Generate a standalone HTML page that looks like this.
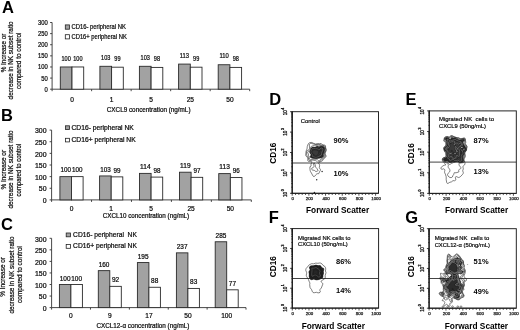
<!DOCTYPE html>
<html><head><meta charset="utf-8"><style>
html,body{margin:0;padding:0;background:#fff;}
svg{display:block;font-family:"Liberation Sans",sans-serif;filter:grayscale(1);}
</style></head><body>
<svg width="520" height="330" viewBox="0 0 520 330">
<rect width="520" height="330" fill="#fff"/>
<line x1="52.10" y1="22.50" x2="52.10" y2="89.20" stroke="#333" stroke-width="0.9"/>
<line x1="50.10" y1="89.20" x2="52.10" y2="89.20" stroke="#333" stroke-width="0.9"/>
<text x="47.80" y="91.70" font-size="6.4" stroke="#1a1a1a" stroke-width="0.22" text-anchor="end" textLength="3.266666666666667" lengthAdjust="spacingAndGlyphs">0</text>
<line x1="50.10" y1="78.08" x2="52.10" y2="78.08" stroke="#333" stroke-width="0.9"/>
<text x="47.80" y="80.58" font-size="6.4" stroke="#1a1a1a" stroke-width="0.22" text-anchor="end" textLength="6.533333333333334" lengthAdjust="spacingAndGlyphs">50</text>
<line x1="50.10" y1="66.97" x2="52.10" y2="66.97" stroke="#333" stroke-width="0.9"/>
<text x="47.80" y="69.47" font-size="6.4" stroke="#1a1a1a" stroke-width="0.22" text-anchor="end" textLength="9.8" lengthAdjust="spacingAndGlyphs">100</text>
<line x1="50.10" y1="55.85" x2="52.10" y2="55.85" stroke="#333" stroke-width="0.9"/>
<text x="47.80" y="58.35" font-size="6.4" stroke="#1a1a1a" stroke-width="0.22" text-anchor="end" textLength="9.8" lengthAdjust="spacingAndGlyphs">150</text>
<line x1="50.10" y1="44.73" x2="52.10" y2="44.73" stroke="#333" stroke-width="0.9"/>
<text x="47.80" y="47.23" font-size="6.4" stroke="#1a1a1a" stroke-width="0.22" text-anchor="end" textLength="9.8" lengthAdjust="spacingAndGlyphs">200</text>
<line x1="50.10" y1="33.62" x2="52.10" y2="33.62" stroke="#333" stroke-width="0.9"/>
<text x="47.80" y="36.12" font-size="6.4" stroke="#1a1a1a" stroke-width="0.22" text-anchor="end" textLength="9.8" lengthAdjust="spacingAndGlyphs">250</text>
<line x1="50.10" y1="22.50" x2="52.10" y2="22.50" stroke="#333" stroke-width="0.9"/>
<text x="47.80" y="25.00" font-size="6.4" stroke="#1a1a1a" stroke-width="0.22" text-anchor="end" textLength="9.8" lengthAdjust="spacingAndGlyphs">300</text>
<line x1="52.10" y1="89.20" x2="249.70" y2="89.20" stroke="#333" stroke-width="0.9"/>
<line x1="52.10" y1="89.20" x2="52.10" y2="91.20" stroke="#333" stroke-width="0.9"/>
<line x1="91.62" y1="89.20" x2="91.62" y2="91.20" stroke="#333" stroke-width="0.9"/>
<line x1="131.14" y1="89.20" x2="131.14" y2="91.20" stroke="#333" stroke-width="0.9"/>
<line x1="170.66" y1="89.20" x2="170.66" y2="91.20" stroke="#333" stroke-width="0.9"/>
<line x1="210.18" y1="89.20" x2="210.18" y2="91.20" stroke="#333" stroke-width="0.9"/>
<line x1="249.70" y1="89.20" x2="249.70" y2="91.20" stroke="#333" stroke-width="0.9"/>
<rect x="60.30" y="66.97" width="11.70" height="22.23" fill="#a2a2a2" stroke="#2a2a2a" stroke-width="0.9"/>
<rect x="72.00" y="66.97" width="11.70" height="22.23" fill="#fff" stroke="#2a2a2a" stroke-width="0.9"/>
<text x="66.15" y="60.67" font-size="6.4" stroke="#1a1a1a" stroke-width="0.22" text-anchor="middle" textLength="9.3" lengthAdjust="spacingAndGlyphs">100</text>
<text x="77.85" y="60.67" font-size="6.4" stroke="#1a1a1a" stroke-width="0.22" text-anchor="middle" textLength="9.3" lengthAdjust="spacingAndGlyphs">100</text>
<text x="72.00" y="101.80" font-size="6.6" stroke="#1a1a1a" stroke-width="0.22" text-anchor="middle">0</text>
<rect x="99.90" y="66.30" width="11.70" height="22.90" fill="#a2a2a2" stroke="#2a2a2a" stroke-width="0.9"/>
<rect x="111.60" y="67.19" width="11.70" height="22.01" fill="#fff" stroke="#2a2a2a" stroke-width="0.9"/>
<text x="105.75" y="60.00" font-size="6.4" stroke="#1a1a1a" stroke-width="0.22" text-anchor="middle" textLength="9.3" lengthAdjust="spacingAndGlyphs">103</text>
<text x="117.45" y="60.89" font-size="6.4" stroke="#1a1a1a" stroke-width="0.22" text-anchor="middle" textLength="6.2" lengthAdjust="spacingAndGlyphs">99</text>
<text x="111.60" y="101.80" font-size="6.6" stroke="#1a1a1a" stroke-width="0.22" text-anchor="middle">1</text>
<rect x="139.40" y="66.30" width="11.70" height="22.90" fill="#a2a2a2" stroke="#2a2a2a" stroke-width="0.9"/>
<rect x="151.10" y="67.41" width="11.70" height="21.79" fill="#fff" stroke="#2a2a2a" stroke-width="0.9"/>
<text x="145.25" y="60.00" font-size="6.4" stroke="#1a1a1a" stroke-width="0.22" text-anchor="middle" textLength="9.3" lengthAdjust="spacingAndGlyphs">103</text>
<text x="156.95" y="61.11" font-size="6.4" stroke="#1a1a1a" stroke-width="0.22" text-anchor="middle" textLength="6.2" lengthAdjust="spacingAndGlyphs">98</text>
<text x="151.10" y="101.80" font-size="6.6" stroke="#1a1a1a" stroke-width="0.22" text-anchor="middle">5</text>
<rect x="178.60" y="64.08" width="11.70" height="25.12" fill="#a2a2a2" stroke="#2a2a2a" stroke-width="0.9"/>
<rect x="190.30" y="67.19" width="11.70" height="22.01" fill="#fff" stroke="#2a2a2a" stroke-width="0.9"/>
<text x="184.45" y="57.78" font-size="6.4" stroke="#1a1a1a" stroke-width="0.22" text-anchor="middle" textLength="9.3" lengthAdjust="spacingAndGlyphs">113</text>
<text x="196.15" y="60.89" font-size="6.4" stroke="#1a1a1a" stroke-width="0.22" text-anchor="middle" textLength="6.2" lengthAdjust="spacingAndGlyphs">99</text>
<text x="190.30" y="101.80" font-size="6.6" stroke="#1a1a1a" stroke-width="0.22" text-anchor="middle">25</text>
<rect x="218.20" y="64.74" width="11.70" height="24.46" fill="#a2a2a2" stroke="#2a2a2a" stroke-width="0.9"/>
<rect x="229.90" y="67.41" width="11.70" height="21.79" fill="#fff" stroke="#2a2a2a" stroke-width="0.9"/>
<text x="224.05" y="58.44" font-size="6.4" stroke="#1a1a1a" stroke-width="0.22" text-anchor="middle" textLength="9.3" lengthAdjust="spacingAndGlyphs">110</text>
<text x="235.75" y="61.11" font-size="6.4" stroke="#1a1a1a" stroke-width="0.22" text-anchor="middle" textLength="6.2" lengthAdjust="spacingAndGlyphs">98</text>
<text x="229.90" y="101.80" font-size="6.6" stroke="#1a1a1a" stroke-width="0.22" text-anchor="middle">50</text>
<text x="106.80" y="111.70" font-size="6.4" stroke="#1a1a1a" stroke-width="0.22" textLength="83.7" lengthAdjust="spacingAndGlyphs">CXCL9 concentration (ng/mL)</text>
<rect x="65.30" y="24.90" width="4.10" height="4.30" fill="#a2a2a2" stroke="#222" stroke-width="0.8"/>
<text x="71.50" y="29.25" font-size="6.5" stroke="#1a1a1a" stroke-width="0.22" textLength="54.3" lengthAdjust="spacingAndGlyphs">CD16- peripheral NK</text>
<rect x="65.30" y="34.70" width="4.10" height="4.20" fill="#fff" stroke="#222" stroke-width="0.8"/>
<text x="71.50" y="38.90" font-size="6.5" stroke="#1a1a1a" stroke-width="0.22" textLength="55.3" lengthAdjust="spacingAndGlyphs">CD16+ peripheral NK</text>
<text transform="translate(5.60,53.00) rotate(-90)" font-size="6.4" stroke="#1a1a1a" stroke-width="0.22" text-anchor="middle" textLength="38.5" lengthAdjust="spacingAndGlyphs">% Increase or</text>
<text transform="translate(13.30,60.40) rotate(-90)" font-size="6.4" stroke="#1a1a1a" stroke-width="0.22" text-anchor="middle" textLength="78.0" lengthAdjust="spacingAndGlyphs">decrease in NK subset ratio</text>
<text transform="translate(21.00,60.80) rotate(-90)" font-size="6.4" stroke="#1a1a1a" stroke-width="0.22" text-anchor="middle" textLength="56.5" lengthAdjust="spacingAndGlyphs">compared to control</text>
<text x="2.00" y="12.60" font-size="16.5" font-weight="bold" fill="#000">A</text>
<line x1="51.60" y1="130.10" x2="51.60" y2="199.90" stroke="#333" stroke-width="0.9"/>
<line x1="49.60" y1="199.90" x2="51.60" y2="199.90" stroke="#333" stroke-width="0.9"/>
<text x="46.60" y="203.10" font-size="6.4" stroke="#1a1a1a" stroke-width="0.22" text-anchor="end" textLength="3.8666666666666667" lengthAdjust="spacingAndGlyphs">0</text>
<line x1="49.60" y1="188.27" x2="51.60" y2="188.27" stroke="#333" stroke-width="0.9"/>
<text x="46.60" y="191.47" font-size="6.4" stroke="#1a1a1a" stroke-width="0.22" text-anchor="end" textLength="7.733333333333333" lengthAdjust="spacingAndGlyphs">50</text>
<line x1="49.60" y1="176.63" x2="51.60" y2="176.63" stroke="#333" stroke-width="0.9"/>
<text x="46.60" y="179.83" font-size="6.4" stroke="#1a1a1a" stroke-width="0.22" text-anchor="end" textLength="11.6" lengthAdjust="spacingAndGlyphs">100</text>
<line x1="49.60" y1="165.00" x2="51.60" y2="165.00" stroke="#333" stroke-width="0.9"/>
<text x="46.60" y="168.20" font-size="6.4" stroke="#1a1a1a" stroke-width="0.22" text-anchor="end" textLength="11.6" lengthAdjust="spacingAndGlyphs">150</text>
<line x1="49.60" y1="153.37" x2="51.60" y2="153.37" stroke="#333" stroke-width="0.9"/>
<text x="46.60" y="156.57" font-size="6.4" stroke="#1a1a1a" stroke-width="0.22" text-anchor="end" textLength="11.6" lengthAdjust="spacingAndGlyphs">200</text>
<line x1="49.60" y1="141.73" x2="51.60" y2="141.73" stroke="#333" stroke-width="0.9"/>
<text x="46.60" y="144.93" font-size="6.4" stroke="#1a1a1a" stroke-width="0.22" text-anchor="end" textLength="11.6" lengthAdjust="spacingAndGlyphs">250</text>
<line x1="49.60" y1="130.10" x2="51.60" y2="130.10" stroke="#333" stroke-width="0.9"/>
<text x="46.60" y="133.30" font-size="6.4" stroke="#1a1a1a" stroke-width="0.22" text-anchor="end" textLength="11.6" lengthAdjust="spacingAndGlyphs">300</text>
<line x1="51.60" y1="199.90" x2="251.30" y2="199.90" stroke="#333" stroke-width="0.9"/>
<line x1="51.60" y1="199.90" x2="51.60" y2="201.90" stroke="#333" stroke-width="0.9"/>
<line x1="91.54" y1="199.90" x2="91.54" y2="201.90" stroke="#333" stroke-width="0.9"/>
<line x1="131.48" y1="199.90" x2="131.48" y2="201.90" stroke="#333" stroke-width="0.9"/>
<line x1="171.42" y1="199.90" x2="171.42" y2="201.90" stroke="#333" stroke-width="0.9"/>
<line x1="211.36" y1="199.90" x2="211.36" y2="201.90" stroke="#333" stroke-width="0.9"/>
<line x1="251.30" y1="199.90" x2="251.30" y2="201.90" stroke="#333" stroke-width="0.9"/>
<rect x="59.90" y="176.63" width="11.60" height="23.27" fill="#a2a2a2" stroke="#2a2a2a" stroke-width="0.9"/>
<rect x="71.50" y="176.63" width="11.60" height="23.27" fill="#fff" stroke="#2a2a2a" stroke-width="0.9"/>
<text x="65.70" y="172.33" font-size="6.4" stroke="#1a1a1a" stroke-width="0.22" text-anchor="middle" textLength="10.5" lengthAdjust="spacingAndGlyphs">100</text>
<text x="77.30" y="172.33" font-size="6.4" stroke="#1a1a1a" stroke-width="0.22" text-anchor="middle" textLength="10.5" lengthAdjust="spacingAndGlyphs">100</text>
<text x="71.50" y="210.60" font-size="6.6" stroke="#1a1a1a" stroke-width="0.22" text-anchor="middle">0</text>
<rect x="99.60" y="175.94" width="11.60" height="23.96" fill="#a2a2a2" stroke="#2a2a2a" stroke-width="0.9"/>
<rect x="111.20" y="176.87" width="11.60" height="23.03" fill="#fff" stroke="#2a2a2a" stroke-width="0.9"/>
<text x="105.40" y="171.64" font-size="6.4" stroke="#1a1a1a" stroke-width="0.22" text-anchor="middle" textLength="10.5" lengthAdjust="spacingAndGlyphs">103</text>
<text x="117.00" y="172.57" font-size="6.4" stroke="#1a1a1a" stroke-width="0.22" text-anchor="middle" textLength="7.0" lengthAdjust="spacingAndGlyphs">99</text>
<text x="111.20" y="210.60" font-size="6.6" stroke="#1a1a1a" stroke-width="0.22" text-anchor="middle">1</text>
<rect x="139.50" y="173.38" width="11.60" height="26.52" fill="#a2a2a2" stroke="#2a2a2a" stroke-width="0.9"/>
<rect x="151.10" y="177.10" width="11.60" height="22.80" fill="#fff" stroke="#2a2a2a" stroke-width="0.9"/>
<text x="145.30" y="169.08" font-size="6.4" stroke="#1a1a1a" stroke-width="0.22" text-anchor="middle" textLength="10.5" lengthAdjust="spacingAndGlyphs">114</text>
<text x="156.90" y="172.80" font-size="6.4" stroke="#1a1a1a" stroke-width="0.22" text-anchor="middle" textLength="7.0" lengthAdjust="spacingAndGlyphs">98</text>
<text x="151.10" y="210.60" font-size="6.6" stroke="#1a1a1a" stroke-width="0.22" text-anchor="middle">5</text>
<rect x="179.50" y="172.21" width="11.60" height="27.69" fill="#a2a2a2" stroke="#2a2a2a" stroke-width="0.9"/>
<rect x="191.10" y="177.33" width="11.60" height="22.57" fill="#fff" stroke="#2a2a2a" stroke-width="0.9"/>
<text x="185.30" y="167.91" font-size="6.4" stroke="#1a1a1a" stroke-width="0.22" text-anchor="middle" textLength="10.5" lengthAdjust="spacingAndGlyphs">119</text>
<text x="196.90" y="173.03" font-size="6.4" stroke="#1a1a1a" stroke-width="0.22" text-anchor="middle" textLength="7.0" lengthAdjust="spacingAndGlyphs">97</text>
<text x="191.10" y="210.60" font-size="6.6" stroke="#1a1a1a" stroke-width="0.22" text-anchor="middle">25</text>
<rect x="218.75" y="173.61" width="11.60" height="26.29" fill="#a2a2a2" stroke="#2a2a2a" stroke-width="0.9"/>
<rect x="230.35" y="177.56" width="11.60" height="22.34" fill="#fff" stroke="#2a2a2a" stroke-width="0.9"/>
<text x="224.55" y="169.31" font-size="6.4" stroke="#1a1a1a" stroke-width="0.22" text-anchor="middle" textLength="10.5" lengthAdjust="spacingAndGlyphs">113</text>
<text x="236.15" y="173.26" font-size="6.4" stroke="#1a1a1a" stroke-width="0.22" text-anchor="middle" textLength="7.0" lengthAdjust="spacingAndGlyphs">96</text>
<text x="230.35" y="210.60" font-size="6.6" stroke="#1a1a1a" stroke-width="0.22" text-anchor="middle">50</text>
<text x="102.70" y="218.40" font-size="6.4" stroke="#1a1a1a" stroke-width="0.22" textLength="86.5" lengthAdjust="spacingAndGlyphs">CXCL10 concentration (ng/mL)</text>
<rect x="65.40" y="125.80" width="4.10" height="3.70" fill="#a2a2a2" stroke="#222" stroke-width="0.8"/>
<text x="71.50" y="129.50" font-size="6.3" stroke="#1a1a1a" stroke-width="0.22" textLength="62.3" lengthAdjust="spacingAndGlyphs">CD16- peripheral NK</text>
<rect x="65.40" y="138.30" width="4.10" height="3.60" fill="#fff" stroke="#222" stroke-width="0.8"/>
<text x="71.50" y="141.80" font-size="6.3" stroke="#1a1a1a" stroke-width="0.22" textLength="64.2" lengthAdjust="spacingAndGlyphs">CD16+ peripheral NK</text>
<text transform="translate(5.70,169.70) rotate(-90)" font-size="6.4" stroke="#1a1a1a" stroke-width="0.22" text-anchor="middle" textLength="39.5" lengthAdjust="spacingAndGlyphs">% Increase or</text>
<text transform="translate(13.00,169.50) rotate(-90)" font-size="6.4" stroke="#1a1a1a" stroke-width="0.22" text-anchor="middle" textLength="78.0" lengthAdjust="spacingAndGlyphs">decrease in NK subset ratio</text>
<text transform="translate(21.40,170.10) rotate(-90)" font-size="6.4" stroke="#1a1a1a" stroke-width="0.22" text-anchor="middle" textLength="52.6" lengthAdjust="spacingAndGlyphs">compared to control</text>
<text x="0.90" y="120.80" font-size="16.5" font-weight="bold" fill="#000">B</text>
<line x1="51.60" y1="238.30" x2="51.60" y2="307.60" stroke="#333" stroke-width="0.9"/>
<line x1="49.60" y1="307.60" x2="51.60" y2="307.60" stroke="#333" stroke-width="0.9"/>
<text x="46.60" y="310.80" font-size="6.4" stroke="#1a1a1a" stroke-width="0.22" text-anchor="end" textLength="3.8666666666666667" lengthAdjust="spacingAndGlyphs">0</text>
<line x1="49.60" y1="296.05" x2="51.60" y2="296.05" stroke="#333" stroke-width="0.9"/>
<text x="46.60" y="299.25" font-size="6.4" stroke="#1a1a1a" stroke-width="0.22" text-anchor="end" textLength="7.733333333333333" lengthAdjust="spacingAndGlyphs">50</text>
<line x1="49.60" y1="284.50" x2="51.60" y2="284.50" stroke="#333" stroke-width="0.9"/>
<text x="46.60" y="287.70" font-size="6.4" stroke="#1a1a1a" stroke-width="0.22" text-anchor="end" textLength="11.6" lengthAdjust="spacingAndGlyphs">100</text>
<line x1="49.60" y1="272.95" x2="51.60" y2="272.95" stroke="#333" stroke-width="0.9"/>
<text x="46.60" y="276.15" font-size="6.4" stroke="#1a1a1a" stroke-width="0.22" text-anchor="end" textLength="11.6" lengthAdjust="spacingAndGlyphs">150</text>
<line x1="49.60" y1="261.40" x2="51.60" y2="261.40" stroke="#333" stroke-width="0.9"/>
<text x="46.60" y="264.60" font-size="6.4" stroke="#1a1a1a" stroke-width="0.22" text-anchor="end" textLength="11.6" lengthAdjust="spacingAndGlyphs">200</text>
<line x1="49.60" y1="249.85" x2="51.60" y2="249.85" stroke="#333" stroke-width="0.9"/>
<text x="46.60" y="253.05" font-size="6.4" stroke="#1a1a1a" stroke-width="0.22" text-anchor="end" textLength="11.6" lengthAdjust="spacingAndGlyphs">250</text>
<line x1="49.60" y1="238.30" x2="51.60" y2="238.30" stroke="#333" stroke-width="0.9"/>
<text x="46.60" y="241.50" font-size="6.4" stroke="#1a1a1a" stroke-width="0.22" text-anchor="end" textLength="11.6" lengthAdjust="spacingAndGlyphs">300</text>
<line x1="51.60" y1="307.60" x2="246.00" y2="307.60" stroke="#333" stroke-width="0.9"/>
<line x1="51.60" y1="307.60" x2="51.60" y2="309.60" stroke="#333" stroke-width="0.9"/>
<line x1="90.48" y1="307.60" x2="90.48" y2="309.60" stroke="#333" stroke-width="0.9"/>
<line x1="129.36" y1="307.60" x2="129.36" y2="309.60" stroke="#333" stroke-width="0.9"/>
<line x1="168.24" y1="307.60" x2="168.24" y2="309.60" stroke="#333" stroke-width="0.9"/>
<line x1="207.12" y1="307.60" x2="207.12" y2="309.60" stroke="#333" stroke-width="0.9"/>
<line x1="246.00" y1="307.60" x2="246.00" y2="309.60" stroke="#333" stroke-width="0.9"/>
<rect x="59.40" y="284.50" width="11.50" height="23.10" fill="#a2a2a2" stroke="#2a2a2a" stroke-width="0.9"/>
<rect x="70.90" y="284.50" width="11.50" height="23.10" fill="#fff" stroke="#2a2a2a" stroke-width="0.9"/>
<text x="65.15" y="280.50" font-size="6.4" stroke="#1a1a1a" stroke-width="0.22" text-anchor="middle" textLength="10.800000000000002" lengthAdjust="spacingAndGlyphs">100</text>
<text x="76.65" y="280.50" font-size="6.4" stroke="#1a1a1a" stroke-width="0.22" text-anchor="middle" textLength="10.800000000000002" lengthAdjust="spacingAndGlyphs">100</text>
<text x="70.90" y="318.00" font-size="6.6" stroke="#1a1a1a" stroke-width="0.22" text-anchor="middle">0</text>
<rect x="98.30" y="270.64" width="11.50" height="36.96" fill="#a2a2a2" stroke="#2a2a2a" stroke-width="0.9"/>
<rect x="109.80" y="286.35" width="11.50" height="21.25" fill="#fff" stroke="#2a2a2a" stroke-width="0.9"/>
<text x="104.05" y="266.64" font-size="6.4" stroke="#1a1a1a" stroke-width="0.22" text-anchor="middle" textLength="10.800000000000002" lengthAdjust="spacingAndGlyphs">160</text>
<text x="115.55" y="282.35" font-size="6.4" stroke="#1a1a1a" stroke-width="0.22" text-anchor="middle" textLength="7.2" lengthAdjust="spacingAndGlyphs">92</text>
<text x="109.80" y="318.00" font-size="6.6" stroke="#1a1a1a" stroke-width="0.22" text-anchor="middle">9</text>
<rect x="137.40" y="262.56" width="11.50" height="45.05" fill="#a2a2a2" stroke="#2a2a2a" stroke-width="0.9"/>
<rect x="148.90" y="287.27" width="11.50" height="20.33" fill="#fff" stroke="#2a2a2a" stroke-width="0.9"/>
<text x="143.15" y="258.56" font-size="6.4" stroke="#1a1a1a" stroke-width="0.22" text-anchor="middle" textLength="10.800000000000002" lengthAdjust="spacingAndGlyphs">195</text>
<text x="154.65" y="283.27" font-size="6.4" stroke="#1a1a1a" stroke-width="0.22" text-anchor="middle" textLength="7.2" lengthAdjust="spacingAndGlyphs">88</text>
<text x="148.90" y="318.00" font-size="6.6" stroke="#1a1a1a" stroke-width="0.22" text-anchor="middle">17</text>
<rect x="176.40" y="252.85" width="11.50" height="54.75" fill="#a2a2a2" stroke="#2a2a2a" stroke-width="0.9"/>
<rect x="187.90" y="288.43" width="11.50" height="19.17" fill="#fff" stroke="#2a2a2a" stroke-width="0.9"/>
<text x="182.15" y="248.85" font-size="6.4" stroke="#1a1a1a" stroke-width="0.22" text-anchor="middle" textLength="10.800000000000002" lengthAdjust="spacingAndGlyphs">237</text>
<text x="193.65" y="284.43" font-size="6.4" stroke="#1a1a1a" stroke-width="0.22" text-anchor="middle" textLength="7.2" lengthAdjust="spacingAndGlyphs">83</text>
<text x="187.90" y="318.00" font-size="6.6" stroke="#1a1a1a" stroke-width="0.22" text-anchor="middle">50</text>
<rect x="215.20" y="241.77" width="11.50" height="65.84" fill="#a2a2a2" stroke="#2a2a2a" stroke-width="0.9"/>
<rect x="226.70" y="289.81" width="11.50" height="17.79" fill="#fff" stroke="#2a2a2a" stroke-width="0.9"/>
<text x="220.95" y="237.77" font-size="6.4" stroke="#1a1a1a" stroke-width="0.22" text-anchor="middle" textLength="10.800000000000002" lengthAdjust="spacingAndGlyphs">285</text>
<text x="232.45" y="285.81" font-size="6.4" stroke="#1a1a1a" stroke-width="0.22" text-anchor="middle" textLength="7.2" lengthAdjust="spacingAndGlyphs">77</text>
<text x="226.70" y="318.00" font-size="6.6" stroke="#1a1a1a" stroke-width="0.22" text-anchor="middle">100</text>
<text x="96.40" y="327.70" font-size="6.4" stroke="#1a1a1a" stroke-width="0.22" textLength="93.0" lengthAdjust="spacingAndGlyphs">CXCL12-α concentration (ng/mL)</text>
<rect x="66.20" y="233.00" width="4.30" height="3.80" fill="#a2a2a2" stroke="#222" stroke-width="0.8"/>
<text x="73.10" y="236.80" font-size="6.8" stroke="#1a1a1a" stroke-width="0.22" textLength="63.8" lengthAdjust="spacingAndGlyphs">CD16- peripheral  NK</text>
<rect x="66.20" y="244.40" width="4.30" height="3.90" fill="#fff" stroke="#222" stroke-width="0.8"/>
<text x="73.10" y="248.40" font-size="6.8" stroke="#1a1a1a" stroke-width="0.22" textLength="63.8" lengthAdjust="spacingAndGlyphs">CD16+ peripheral NK</text>
<text transform="translate(5.00,276.90) rotate(-90)" font-size="6.4" stroke="#1a1a1a" stroke-width="0.22" text-anchor="middle" textLength="39.8" lengthAdjust="spacingAndGlyphs">% Increase or</text>
<text transform="translate(13.60,275.00) rotate(-90)" font-size="6.4" stroke="#1a1a1a" stroke-width="0.22" text-anchor="middle" textLength="77.0" lengthAdjust="spacingAndGlyphs">decrease in NK subset ratio</text>
<text transform="translate(21.80,274.50) rotate(-90)" font-size="6.4" stroke="#1a1a1a" stroke-width="0.22" text-anchor="middle" textLength="56.8" lengthAdjust="spacingAndGlyphs">compared to control</text>
<text x="0.90" y="229.80" font-size="16.5" font-weight="bold" fill="#000">C</text>
<rect x="292.20" y="111.70" width="86.30" height="81.60" fill="none" stroke="#1a1a1a" stroke-width="0.95"/>
<line x1="292.20" y1="111.30" x2="292.20" y2="193.70" stroke="#222" stroke-width="1.3"/>
<line x1="291.80" y1="193.30" x2="378.50" y2="193.30" stroke="#222" stroke-width="1.0"/>
<line x1="292.20" y1="163.00" x2="378.50" y2="163.00" stroke="#222" stroke-width="0.85"/>
<line x1="290.00" y1="193.30" x2="292.20" y2="193.30" stroke="#111" stroke-width="0.8"/>
<line x1="291.30" y1="187.16" x2="292.50" y2="187.16" stroke="#111" stroke-width="0.7"/>
<line x1="291.30" y1="183.57" x2="292.50" y2="183.57" stroke="#111" stroke-width="0.7"/>
<line x1="291.30" y1="181.02" x2="292.50" y2="181.02" stroke="#111" stroke-width="0.7"/>
<line x1="291.30" y1="179.04" x2="292.50" y2="179.04" stroke="#111" stroke-width="0.7"/>
<line x1="291.30" y1="177.43" x2="292.50" y2="177.43" stroke="#111" stroke-width="0.7"/>
<line x1="291.30" y1="176.06" x2="292.50" y2="176.06" stroke="#111" stroke-width="0.7"/>
<line x1="291.30" y1="174.88" x2="292.50" y2="174.88" stroke="#111" stroke-width="0.7"/>
<line x1="291.30" y1="173.83" x2="292.50" y2="173.83" stroke="#111" stroke-width="0.7"/>
<text transform="translate(287.30,194.40) rotate(-90)" font-size="4.6" text-anchor="middle" fill="#111" stroke="#111" stroke-width="0.3">10</text>
<text transform="translate(284.10,191.30) rotate(-90)" font-size="3.5" fill="#111" stroke="#111" stroke-width="0.3">0</text>
<line x1="290.00" y1="172.90" x2="292.20" y2="172.90" stroke="#111" stroke-width="0.8"/>
<line x1="291.30" y1="166.76" x2="292.50" y2="166.76" stroke="#111" stroke-width="0.7"/>
<line x1="291.30" y1="163.17" x2="292.50" y2="163.17" stroke="#111" stroke-width="0.7"/>
<line x1="291.30" y1="160.62" x2="292.50" y2="160.62" stroke="#111" stroke-width="0.7"/>
<line x1="291.30" y1="158.64" x2="292.50" y2="158.64" stroke="#111" stroke-width="0.7"/>
<line x1="291.30" y1="157.03" x2="292.50" y2="157.03" stroke="#111" stroke-width="0.7"/>
<line x1="291.30" y1="155.66" x2="292.50" y2="155.66" stroke="#111" stroke-width="0.7"/>
<line x1="291.30" y1="154.48" x2="292.50" y2="154.48" stroke="#111" stroke-width="0.7"/>
<line x1="291.30" y1="153.43" x2="292.50" y2="153.43" stroke="#111" stroke-width="0.7"/>
<text transform="translate(287.30,174.00) rotate(-90)" font-size="4.6" text-anchor="middle" fill="#111" stroke="#111" stroke-width="0.3">10</text>
<text transform="translate(284.10,170.90) rotate(-90)" font-size="3.5" fill="#111" stroke="#111" stroke-width="0.3">1</text>
<line x1="290.00" y1="152.50" x2="292.20" y2="152.50" stroke="#111" stroke-width="0.8"/>
<line x1="291.30" y1="146.36" x2="292.50" y2="146.36" stroke="#111" stroke-width="0.7"/>
<line x1="291.30" y1="142.77" x2="292.50" y2="142.77" stroke="#111" stroke-width="0.7"/>
<line x1="291.30" y1="140.22" x2="292.50" y2="140.22" stroke="#111" stroke-width="0.7"/>
<line x1="291.30" y1="138.24" x2="292.50" y2="138.24" stroke="#111" stroke-width="0.7"/>
<line x1="291.30" y1="136.63" x2="292.50" y2="136.63" stroke="#111" stroke-width="0.7"/>
<line x1="291.30" y1="135.26" x2="292.50" y2="135.26" stroke="#111" stroke-width="0.7"/>
<line x1="291.30" y1="134.08" x2="292.50" y2="134.08" stroke="#111" stroke-width="0.7"/>
<line x1="291.30" y1="133.03" x2="292.50" y2="133.03" stroke="#111" stroke-width="0.7"/>
<text transform="translate(287.30,153.60) rotate(-90)" font-size="4.6" text-anchor="middle" fill="#111" stroke="#111" stroke-width="0.3">10</text>
<text transform="translate(284.10,150.50) rotate(-90)" font-size="3.5" fill="#111" stroke="#111" stroke-width="0.3">2</text>
<line x1="290.00" y1="132.10" x2="292.20" y2="132.10" stroke="#111" stroke-width="0.8"/>
<line x1="291.30" y1="125.96" x2="292.50" y2="125.96" stroke="#111" stroke-width="0.7"/>
<line x1="291.30" y1="122.37" x2="292.50" y2="122.37" stroke="#111" stroke-width="0.7"/>
<line x1="291.30" y1="119.82" x2="292.50" y2="119.82" stroke="#111" stroke-width="0.7"/>
<line x1="291.30" y1="117.84" x2="292.50" y2="117.84" stroke="#111" stroke-width="0.7"/>
<line x1="291.30" y1="116.23" x2="292.50" y2="116.23" stroke="#111" stroke-width="0.7"/>
<line x1="291.30" y1="114.86" x2="292.50" y2="114.86" stroke="#111" stroke-width="0.7"/>
<line x1="291.30" y1="113.68" x2="292.50" y2="113.68" stroke="#111" stroke-width="0.7"/>
<line x1="291.30" y1="112.63" x2="292.50" y2="112.63" stroke="#111" stroke-width="0.7"/>
<text transform="translate(287.30,133.20) rotate(-90)" font-size="4.6" text-anchor="middle" fill="#111" stroke="#111" stroke-width="0.3">10</text>
<text transform="translate(284.10,130.10) rotate(-90)" font-size="3.5" fill="#111" stroke="#111" stroke-width="0.3">3</text>
<line x1="290.00" y1="111.70" x2="292.20" y2="111.70" stroke="#111" stroke-width="0.8"/>
<text transform="translate(287.30,112.80) rotate(-90)" font-size="4.6" text-anchor="middle" fill="#111" stroke="#111" stroke-width="0.3">10</text>
<text transform="translate(284.10,109.70) rotate(-90)" font-size="3.5" fill="#111" stroke="#111" stroke-width="0.3">4</text>
<line x1="292.20" y1="193.30" x2="292.20" y2="195.70" stroke="#222" stroke-width="0.8"/>
<line x1="295.54" y1="193.30" x2="295.54" y2="195.00" stroke="#222" stroke-width="0.75"/>
<line x1="298.87" y1="193.30" x2="298.87" y2="195.00" stroke="#222" stroke-width="0.75"/>
<line x1="302.21" y1="193.30" x2="302.21" y2="195.00" stroke="#222" stroke-width="0.75"/>
<line x1="305.54" y1="193.30" x2="305.54" y2="195.00" stroke="#222" stroke-width="0.75"/>
<line x1="308.88" y1="193.30" x2="308.88" y2="195.70" stroke="#222" stroke-width="0.8"/>
<line x1="312.22" y1="193.30" x2="312.22" y2="195.00" stroke="#222" stroke-width="0.75"/>
<line x1="315.55" y1="193.30" x2="315.55" y2="195.00" stroke="#222" stroke-width="0.75"/>
<line x1="318.89" y1="193.30" x2="318.89" y2="195.00" stroke="#222" stroke-width="0.75"/>
<line x1="322.22" y1="193.30" x2="322.22" y2="195.00" stroke="#222" stroke-width="0.75"/>
<line x1="325.56" y1="193.30" x2="325.56" y2="195.70" stroke="#222" stroke-width="0.8"/>
<line x1="328.90" y1="193.30" x2="328.90" y2="195.00" stroke="#222" stroke-width="0.75"/>
<line x1="332.23" y1="193.30" x2="332.23" y2="195.00" stroke="#222" stroke-width="0.75"/>
<line x1="335.57" y1="193.30" x2="335.57" y2="195.00" stroke="#222" stroke-width="0.75"/>
<line x1="338.90" y1="193.30" x2="338.90" y2="195.00" stroke="#222" stroke-width="0.75"/>
<line x1="342.24" y1="193.30" x2="342.24" y2="195.70" stroke="#222" stroke-width="0.8"/>
<line x1="345.58" y1="193.30" x2="345.58" y2="195.00" stroke="#222" stroke-width="0.75"/>
<line x1="348.91" y1="193.30" x2="348.91" y2="195.00" stroke="#222" stroke-width="0.75"/>
<line x1="352.25" y1="193.30" x2="352.25" y2="195.00" stroke="#222" stroke-width="0.75"/>
<line x1="355.58" y1="193.30" x2="355.58" y2="195.00" stroke="#222" stroke-width="0.75"/>
<line x1="358.92" y1="193.30" x2="358.92" y2="195.70" stroke="#222" stroke-width="0.8"/>
<line x1="362.26" y1="193.30" x2="362.26" y2="195.00" stroke="#222" stroke-width="0.75"/>
<line x1="365.59" y1="193.30" x2="365.59" y2="195.00" stroke="#222" stroke-width="0.75"/>
<line x1="368.93" y1="193.30" x2="368.93" y2="195.00" stroke="#222" stroke-width="0.75"/>
<line x1="372.26" y1="193.30" x2="372.26" y2="195.00" stroke="#222" stroke-width="0.75"/>
<line x1="375.60" y1="193.30" x2="375.60" y2="195.70" stroke="#222" stroke-width="0.8"/>
<text x="292.70" y="199.90" font-size="4.4" stroke="#222" stroke-width="0.25" text-anchor="middle" fill="#222">0</text>
<text x="309.38" y="199.90" font-size="4.4" stroke="#222" stroke-width="0.25" text-anchor="middle" fill="#222">200</text>
<text x="326.06" y="199.90" font-size="4.4" stroke="#222" stroke-width="0.25" text-anchor="middle" fill="#222">400</text>
<text x="342.74" y="199.90" font-size="4.4" stroke="#222" stroke-width="0.25" text-anchor="middle" fill="#222">600</text>
<text x="359.42" y="199.90" font-size="4.4" stroke="#222" stroke-width="0.25" text-anchor="middle" fill="#222">800</text>
<text x="376.10" y="199.90" font-size="4.4" stroke="#222" stroke-width="0.25" text-anchor="middle" fill="#222">1000</text>
<text transform="translate(276.00,153.20) rotate(-90)" font-size="8.3" font-weight="bold" text-anchor="middle" textLength="21" lengthAdjust="spacingAndGlyphs" fill="#000">CD16</text>
<text x="306.00" y="212.90" font-size="8.4" font-weight="bold" textLength="63.2" lengthAdjust="spacingAndGlyphs" fill="#000">Forward Scatter</text>
<text x="269.30" y="104.60" font-size="16.5" font-weight="bold" fill="#000">D</text>
<text x="300.80" y="123.00" font-size="6.2" stroke="#1a1a1a" stroke-width="0.22" textLength="19.0" lengthAdjust="spacingAndGlyphs">Control</text>
<text x="333.50" y="142.50" font-size="7.9" font-weight="bold" textLength="15.0" lengthAdjust="spacingAndGlyphs" fill="#000">90%</text>
<text x="333.50" y="175.50" font-size="7.9" font-weight="bold" textLength="15.0" lengthAdjust="spacingAndGlyphs" fill="#000">10%</text>
<path d="M317.6,158.4 315.6,158.5 312.4,158.2 310.6,157.6 310.2,157.3 310.1,156.8 310.1,156.4 310.8,155.4 311.0,154.8 310.8,154.2 309.8,152.6 309.6,151.8 310.7,149.8 311.3,148.0 311.8,147.4 312.4,147.2 313.2,147.1 314.8,147.2 315.4,147.1 316.4,146.2 317.0,146.0 317.8,146.1 318.8,146.7 321.0,146.2 322.8,146.6 323.6,146.8 324.0,147.2 324.3,147.8 324.6,149.6 324.4,150.8 323.4,153.8 323.3,154.6 323.5,155.8 323.4,156.4 322.7,157.2 321.8,157.8 317.6,158.4Z" fill="#3a3a3a" stroke="none"/><path d="M314.4,176.5 314.0,176.6 313.6,176.5 313.0,176.0 311.4,173.0 310.5,171.6 310.2,170.8 309.9,168.4 309.9,166.8 310.0,166.6 310.8,166.3 311.1,166.0 311.0,164.2 311.8,162.4 311.9,162.0 311.8,161.6 311.6,161.4 311.2,161.3 308.8,161.4 308.0,161.1 307.8,160.8 307.8,158.8 307.6,157.8 307.2,157.2 306.1,156.2 305.9,155.8 305.7,155.2 306.1,151.0 307.0,149.0 307.3,146.4 308.1,144.2 308.6,143.4 309.0,143.0 309.8,142.7 311.0,142.4 312.0,142.5 313.7,143.4 315.6,144.0 317.8,143.6 319.6,143.7 321.0,143.4 321.4,143.6 322.1,144.4 322.8,144.8 325.0,145.2 325.3,145.4 325.5,145.8 325.6,147.4 326.3,149.6 326.3,150.4 325.4,152.6 325.2,153.4 325.4,154.4 326.2,156.0 326.2,156.4 326.0,156.8 324.0,158.4 322.4,160.8 321.6,161.3 319.4,162.2 318.6,163.0 318.6,163.4 319.2,164.1 319.6,165.0 319.6,165.8 319.3,167.6 319.5,168.2 320.4,169.4 320.5,170.0 320.4,170.4 319.6,171.6 319.0,173.4 318.6,173.6 317.4,173.7 316.8,173.9 315.8,174.8 314.9,176.0 314.4,176.5Z M317.8,162.0 317.2,161.8 316.2,160.9 315.6,160.6 312.8,160.1 310.0,160.5 309.2,160.3 308.7,159.6 308.2,157.3 307.0,155.6 306.7,154.8 306.6,153.2 306.7,151.6 307.0,151.0 307.4,150.5 308.8,149.8 309.4,149.2 309.6,148.2 309.3,144.6 309.5,144.0 310.0,143.6 310.8,143.4 311.6,143.5 315.4,144.5 318.2,144.3 320.6,144.6 322.4,145.3 324.2,145.7 324.6,145.9 324.9,146.4 325.8,149.6 325.7,150.6 325.0,152.4 324.7,153.4 324.8,154.3 325.3,155.8 325.2,156.4 321.3,160.4 319.0,161.7 317.8,162.0Z M316.6,171.4 316.2,171.5 315.8,171.5 314.4,170.4 312.4,170.0 311.9,169.6 311.6,169.1 311.6,168.6 311.8,168.2 313.4,167.4 313.9,166.8 314.0,165.8 313.5,164.2 313.6,163.4 314.0,162.8 314.2,162.9 314.4,163.2 315.2,164.8 315.4,165.4 315.5,166.6 315.7,167.2 316.7,168.2 317.9,170.2 317.9,170.6 317.6,171.1 316.6,171.4Z M319.0,160.6 318.4,160.5 317.4,159.7 316.6,159.4 313.0,159.2 310.4,159.6 309.8,159.4 309.4,159.0 309.0,157.0 308.5,155.6 308.4,154.0 307.8,153.0 307.7,152.2 308.0,151.6 309.4,150.5 310.0,149.8 310.3,149.0 310.8,147.0 311.4,146.3 314.4,145.4 317.8,145.0 323.4,146.1 324.1,146.4 324.6,147.0 325.1,148.8 325.2,149.6 325.1,150.6 324.2,153.4 324.2,154.4 324.4,155.8 324.4,156.2 323.8,157.0 322.6,158.1 320.7,159.4 319.6,160.3 319.0,160.6Z M317.6,158.4 315.6,158.5 312.4,158.2 310.6,157.6 310.2,157.3 310.1,156.8 310.1,156.4 310.8,155.4 311.0,154.8 310.8,154.2 309.8,152.6 309.6,151.8 310.7,149.8 311.3,148.0 311.8,147.4 312.4,147.2 313.2,147.1 314.8,147.2 315.4,147.1 316.4,146.2 317.0,146.0 317.8,146.1 318.8,146.7 321.0,146.2 322.8,146.6 323.6,146.8 324.0,147.2 324.3,147.8 324.6,149.6 324.4,150.8 323.4,153.8 323.3,154.6 323.5,155.8 323.4,156.4 322.7,157.2 321.8,157.8 317.6,158.4Z M317.2,158.1 315.6,158.2 313.2,157.8 311.8,157.4 310.9,156.8 310.9,156.4 311.4,155.3 311.4,154.6 310.4,152.8 310.1,151.8 310.2,151.2 311.0,149.8 311.5,148.4 312.0,147.8 312.8,147.5 313.6,147.5 315.2,147.8 317.0,147.6 318.6,148.2 319.0,148.1 320.0,147.0 320.6,146.7 321.6,146.7 323.4,147.1 323.8,147.5 324.0,148.0 324.2,149.6 324.0,150.8 322.9,154.0 322.8,154.8 322.9,155.8 322.8,156.4 322.4,156.9 321.8,157.2 318.6,157.7 317.2,158.1Z M316.6,157.8 315.4,157.8 313.0,157.3 312.1,157.0 311.6,156.6 311.5,156.2 311.8,155.2 311.8,154.6 310.7,152.8 310.4,151.8 310.6,151.0 311.8,148.5 312.4,148.0 313.4,147.8 315.2,148.2 317.0,148.2 318.8,148.8 319.4,148.5 320.3,147.4 320.8,147.1 321.6,147.0 323.2,147.5 323.5,147.8 323.7,148.2 323.7,149.8 323.5,150.8 322.4,153.8 322.1,156.0 321.6,156.4 320.4,156.7 316.6,157.8Z M317.0,157.4 316.2,157.5 315.4,157.4 313.0,156.9 312.4,156.7 312.1,156.4 312.0,156.0 312.2,154.6 311.1,152.8 310.8,151.8 310.9,151.0 312.0,148.8 312.6,148.2 313.4,148.1 315.2,148.5 317.0,148.5 318.4,149.1 319.0,149.2 319.4,149.2 319.8,148.9 320.6,147.9 321.0,147.6 321.6,147.5 322.8,147.9 323.2,148.4 323.2,149.8 322.1,153.2 321.5,155.2 321.1,155.6 319.2,156.6 317.0,157.4Z M317.0,157.1 316.2,157.2 315.6,157.1 314.4,156.7 313.2,156.5 312.7,156.2 312.5,155.8 312.6,155.0 312.5,154.4 311.4,152.8 311.0,151.8 311.2,151.0 312.1,149.2 312.7,148.6 313.6,148.5 315.0,148.8 317.0,148.9 318.4,149.5 319.2,149.7 319.8,149.6 321.0,148.8 321.4,148.7 321.8,148.8 322.3,149.2 322.4,150.0 322.0,151.2 321.0,152.2 321.2,153.6 321.1,154.6 320.7,155.0 318.8,156.2 317.0,157.1Z M317.0,156.6 316.4,156.8 315.8,156.8 314.6,156.2 313.4,155.9 313.2,155.6 312.9,154.4 311.6,152.6 311.3,151.8 311.4,151.2 312.6,149.4 313.0,149.0 313.6,148.9 315.0,149.2 317.0,149.4 318.3,150.0 319.5,150.8 319.6,151.0 319.6,152.0 320.2,153.6 320.1,154.2 318.4,155.8 317.0,156.6Z M320.6,151.0 320.0,150.9 319.9,150.8 319.9,150.6 320.4,150.1 321.0,150.0 321.2,150.2 321.3,150.6 321.0,150.9 320.6,151.0Z M316.4,156.0 315.8,156.1 314.2,155.0 312.3,153.0 311.8,152.2 311.7,151.6 312.0,151.1 313.0,150.5 313.8,149.8 314.6,149.8 317.2,150.2 318.0,150.6 318.4,151.2 318.6,152.6 318.3,154.2 317.9,154.8 316.9,155.4 316.4,156.0Z" fill="none" stroke="#1a1a1a" stroke-width="0.55" stroke-linejoin="round"/><path d="M317.0,157.2 316.4,157.3 315.6,157.3 313.0,156.7 312.4,156.3 312.3,156.0 312.3,154.6 311.2,152.8 310.9,151.8 311.0,151.0 312.0,149.0 312.6,148.4 313.4,148.3 315.2,148.7 317.0,148.7 318.4,149.3 319.2,149.5 319.9,149.2 320.8,148.2 321.2,148.0 321.8,148.0 322.6,148.4 322.8,148.6 322.9,149.0 322.9,150.0 321.9,152.4 321.5,154.4 321.3,155.0 320.8,155.4 319.0,156.4 317.0,157.2Z" fill="none" stroke="#fff" stroke-width="0.3" stroke-opacity="0.7"/><circle cx="322.1" cy="171.5" r="0.7" fill="#222"/><circle cx="316.7" cy="179.8" r="0.7" fill="#222"/><circle cx="314.4" cy="192.6" r="0.8" fill="#222"/>
<rect x="429.30" y="110.90" width="87.00" height="82.50" fill="none" stroke="#1a1a1a" stroke-width="0.95"/>
<line x1="429.30" y1="110.50" x2="429.30" y2="193.80" stroke="#222" stroke-width="1.3"/>
<line x1="428.90" y1="193.40" x2="516.30" y2="193.40" stroke="#222" stroke-width="1.0"/>
<line x1="429.30" y1="162.10" x2="516.30" y2="162.10" stroke="#222" stroke-width="0.85"/>
<line x1="427.10" y1="193.40" x2="429.30" y2="193.40" stroke="#111" stroke-width="0.8"/>
<line x1="428.40" y1="187.19" x2="429.60" y2="187.19" stroke="#111" stroke-width="0.7"/>
<line x1="428.40" y1="183.56" x2="429.60" y2="183.56" stroke="#111" stroke-width="0.7"/>
<line x1="428.40" y1="180.98" x2="429.60" y2="180.98" stroke="#111" stroke-width="0.7"/>
<line x1="428.40" y1="178.98" x2="429.60" y2="178.98" stroke="#111" stroke-width="0.7"/>
<line x1="428.40" y1="177.35" x2="429.60" y2="177.35" stroke="#111" stroke-width="0.7"/>
<line x1="428.40" y1="175.97" x2="429.60" y2="175.97" stroke="#111" stroke-width="0.7"/>
<line x1="428.40" y1="174.77" x2="429.60" y2="174.77" stroke="#111" stroke-width="0.7"/>
<line x1="428.40" y1="173.72" x2="429.60" y2="173.72" stroke="#111" stroke-width="0.7"/>
<text transform="translate(424.40,194.50) rotate(-90)" font-size="4.6" text-anchor="middle" fill="#111" stroke="#111" stroke-width="0.3">10</text>
<text transform="translate(421.20,191.40) rotate(-90)" font-size="3.5" fill="#111" stroke="#111" stroke-width="0.3">0</text>
<line x1="427.10" y1="172.78" x2="429.30" y2="172.78" stroke="#111" stroke-width="0.8"/>
<line x1="428.40" y1="166.57" x2="429.60" y2="166.57" stroke="#111" stroke-width="0.7"/>
<line x1="428.40" y1="162.93" x2="429.60" y2="162.93" stroke="#111" stroke-width="0.7"/>
<line x1="428.40" y1="160.36" x2="429.60" y2="160.36" stroke="#111" stroke-width="0.7"/>
<line x1="428.40" y1="158.36" x2="429.60" y2="158.36" stroke="#111" stroke-width="0.7"/>
<line x1="428.40" y1="156.73" x2="429.60" y2="156.73" stroke="#111" stroke-width="0.7"/>
<line x1="428.40" y1="155.34" x2="429.60" y2="155.34" stroke="#111" stroke-width="0.7"/>
<line x1="428.40" y1="154.15" x2="429.60" y2="154.15" stroke="#111" stroke-width="0.7"/>
<line x1="428.40" y1="153.09" x2="429.60" y2="153.09" stroke="#111" stroke-width="0.7"/>
<text transform="translate(424.40,173.88) rotate(-90)" font-size="4.6" text-anchor="middle" fill="#111" stroke="#111" stroke-width="0.3">10</text>
<text transform="translate(421.20,170.78) rotate(-90)" font-size="3.5" fill="#111" stroke="#111" stroke-width="0.3">1</text>
<line x1="427.10" y1="152.15" x2="429.30" y2="152.15" stroke="#111" stroke-width="0.8"/>
<line x1="428.40" y1="145.94" x2="429.60" y2="145.94" stroke="#111" stroke-width="0.7"/>
<line x1="428.40" y1="142.31" x2="429.60" y2="142.31" stroke="#111" stroke-width="0.7"/>
<line x1="428.40" y1="139.73" x2="429.60" y2="139.73" stroke="#111" stroke-width="0.7"/>
<line x1="428.40" y1="137.73" x2="429.60" y2="137.73" stroke="#111" stroke-width="0.7"/>
<line x1="428.40" y1="136.10" x2="429.60" y2="136.10" stroke="#111" stroke-width="0.7"/>
<line x1="428.40" y1="134.72" x2="429.60" y2="134.72" stroke="#111" stroke-width="0.7"/>
<line x1="428.40" y1="133.52" x2="429.60" y2="133.52" stroke="#111" stroke-width="0.7"/>
<line x1="428.40" y1="132.47" x2="429.60" y2="132.47" stroke="#111" stroke-width="0.7"/>
<text transform="translate(424.40,153.25) rotate(-90)" font-size="4.6" text-anchor="middle" fill="#111" stroke="#111" stroke-width="0.3">10</text>
<text transform="translate(421.20,150.15) rotate(-90)" font-size="3.5" fill="#111" stroke="#111" stroke-width="0.3">2</text>
<line x1="427.10" y1="131.53" x2="429.30" y2="131.53" stroke="#111" stroke-width="0.8"/>
<line x1="428.40" y1="125.32" x2="429.60" y2="125.32" stroke="#111" stroke-width="0.7"/>
<line x1="428.40" y1="121.68" x2="429.60" y2="121.68" stroke="#111" stroke-width="0.7"/>
<line x1="428.40" y1="119.11" x2="429.60" y2="119.11" stroke="#111" stroke-width="0.7"/>
<line x1="428.40" y1="117.11" x2="429.60" y2="117.11" stroke="#111" stroke-width="0.7"/>
<line x1="428.40" y1="115.48" x2="429.60" y2="115.48" stroke="#111" stroke-width="0.7"/>
<line x1="428.40" y1="114.09" x2="429.60" y2="114.09" stroke="#111" stroke-width="0.7"/>
<line x1="428.40" y1="112.90" x2="429.60" y2="112.90" stroke="#111" stroke-width="0.7"/>
<line x1="428.40" y1="111.84" x2="429.60" y2="111.84" stroke="#111" stroke-width="0.7"/>
<text transform="translate(424.40,132.62) rotate(-90)" font-size="4.6" text-anchor="middle" fill="#111" stroke="#111" stroke-width="0.3">10</text>
<text transform="translate(421.20,129.53) rotate(-90)" font-size="3.5" fill="#111" stroke="#111" stroke-width="0.3">3</text>
<line x1="427.10" y1="110.90" x2="429.30" y2="110.90" stroke="#111" stroke-width="0.8"/>
<text transform="translate(424.40,112.00) rotate(-90)" font-size="4.6" text-anchor="middle" fill="#111" stroke="#111" stroke-width="0.3">10</text>
<text transform="translate(421.20,108.90) rotate(-90)" font-size="3.5" fill="#111" stroke="#111" stroke-width="0.3">4</text>
<line x1="429.30" y1="193.40" x2="429.30" y2="195.80" stroke="#222" stroke-width="0.8"/>
<line x1="432.66" y1="193.40" x2="432.66" y2="195.10" stroke="#222" stroke-width="0.75"/>
<line x1="436.03" y1="193.40" x2="436.03" y2="195.10" stroke="#222" stroke-width="0.75"/>
<line x1="439.39" y1="193.40" x2="439.39" y2="195.10" stroke="#222" stroke-width="0.75"/>
<line x1="442.76" y1="193.40" x2="442.76" y2="195.10" stroke="#222" stroke-width="0.75"/>
<line x1="446.12" y1="193.40" x2="446.12" y2="195.80" stroke="#222" stroke-width="0.8"/>
<line x1="449.48" y1="193.40" x2="449.48" y2="195.10" stroke="#222" stroke-width="0.75"/>
<line x1="452.85" y1="193.40" x2="452.85" y2="195.10" stroke="#222" stroke-width="0.75"/>
<line x1="456.21" y1="193.40" x2="456.21" y2="195.10" stroke="#222" stroke-width="0.75"/>
<line x1="459.58" y1="193.40" x2="459.58" y2="195.10" stroke="#222" stroke-width="0.75"/>
<line x1="462.94" y1="193.40" x2="462.94" y2="195.80" stroke="#222" stroke-width="0.8"/>
<line x1="466.30" y1="193.40" x2="466.30" y2="195.10" stroke="#222" stroke-width="0.75"/>
<line x1="469.67" y1="193.40" x2="469.67" y2="195.10" stroke="#222" stroke-width="0.75"/>
<line x1="473.03" y1="193.40" x2="473.03" y2="195.10" stroke="#222" stroke-width="0.75"/>
<line x1="476.40" y1="193.40" x2="476.40" y2="195.10" stroke="#222" stroke-width="0.75"/>
<line x1="479.76" y1="193.40" x2="479.76" y2="195.80" stroke="#222" stroke-width="0.8"/>
<line x1="483.12" y1="193.40" x2="483.12" y2="195.10" stroke="#222" stroke-width="0.75"/>
<line x1="486.49" y1="193.40" x2="486.49" y2="195.10" stroke="#222" stroke-width="0.75"/>
<line x1="489.85" y1="193.40" x2="489.85" y2="195.10" stroke="#222" stroke-width="0.75"/>
<line x1="493.22" y1="193.40" x2="493.22" y2="195.10" stroke="#222" stroke-width="0.75"/>
<line x1="496.58" y1="193.40" x2="496.58" y2="195.80" stroke="#222" stroke-width="0.8"/>
<line x1="499.94" y1="193.40" x2="499.94" y2="195.10" stroke="#222" stroke-width="0.75"/>
<line x1="503.31" y1="193.40" x2="503.31" y2="195.10" stroke="#222" stroke-width="0.75"/>
<line x1="506.67" y1="193.40" x2="506.67" y2="195.10" stroke="#222" stroke-width="0.75"/>
<line x1="510.04" y1="193.40" x2="510.04" y2="195.10" stroke="#222" stroke-width="0.75"/>
<line x1="513.40" y1="193.40" x2="513.40" y2="195.80" stroke="#222" stroke-width="0.8"/>
<text x="429.80" y="200.00" font-size="4.4" stroke="#222" stroke-width="0.25" text-anchor="middle" fill="#222">0</text>
<text x="446.62" y="200.00" font-size="4.4" stroke="#222" stroke-width="0.25" text-anchor="middle" fill="#222">200</text>
<text x="463.44" y="200.00" font-size="4.4" stroke="#222" stroke-width="0.25" text-anchor="middle" fill="#222">400</text>
<text x="480.26" y="200.00" font-size="4.4" stroke="#222" stroke-width="0.25" text-anchor="middle" fill="#222">600</text>
<text x="497.08" y="200.00" font-size="4.4" stroke="#222" stroke-width="0.25" text-anchor="middle" fill="#222">800</text>
<text x="513.90" y="200.00" font-size="4.4" stroke="#222" stroke-width="0.25" text-anchor="middle" fill="#222">1000</text>
<text transform="translate(413.70,153.80) rotate(-90)" font-size="8.3" font-weight="bold" text-anchor="middle" textLength="21" lengthAdjust="spacingAndGlyphs" fill="#000">CD16</text>
<text x="445.00" y="212.90" font-size="8.4" font-weight="bold" textLength="63.2" lengthAdjust="spacingAndGlyphs" fill="#000">Forward Scatter</text>
<text x="405.60" y="104.60" font-size="16.5" font-weight="bold" fill="#000">E</text>
<text x="439.00" y="121.30" font-size="6.2" stroke="#1a1a1a" stroke-width="0.22" textLength="55.0" lengthAdjust="spacingAndGlyphs">Migrated NK  cells to</text>
<text x="439.00" y="128.30" font-size="6.2" stroke="#1a1a1a" stroke-width="0.22" textLength="47.0" lengthAdjust="spacingAndGlyphs">CXCL9 (50ng/mL)</text>
<text x="473.60" y="142.80" font-size="7.9" font-weight="bold" textLength="15.0" lengthAdjust="spacingAndGlyphs" fill="#000">87%</text>
<text x="473.60" y="174.30" font-size="7.9" font-weight="bold" textLength="15.0" lengthAdjust="spacingAndGlyphs" fill="#000">13%</text>
<path d="M451.2,162.4 450.2,162.6 449.6,162.5 447.6,161.3 447.0,161.1 444.8,161.0 444.0,160.6 443.6,159.8 443.6,159.2 443.8,158.8 445.4,158.2 446.4,157.6 447.0,157.0 447.3,156.2 447.1,154.6 447.1,153.2 446.9,152.4 446.4,151.6 445.0,150.4 444.6,149.2 444.7,148.2 445.0,147.6 446.9,146.0 447.2,145.6 447.3,145.2 447.1,141.8 446.6,140.9 445.6,139.6 445.5,139.0 445.6,138.3 445.9,138.0 446.4,137.8 447.4,137.8 448.2,138.1 449.8,139.2 450.4,139.3 450.8,139.0 451.2,137.6 451.4,137.4 451.8,137.3 453.4,138.1 455.2,138.2 455.8,138.4 457.7,139.4 459.4,140.1 460.6,140.1 462.6,139.6 464.0,139.4 464.3,139.8 464.3,140.4 464.0,140.9 463.0,141.7 462.9,142.6 463.2,143.7 463.6,144.6 464.0,145.1 464.8,145.8 465.2,146.4 465.8,149.6 465.7,150.2 465.4,150.6 464.3,151.6 463.9,152.2 463.7,154.0 463.3,155.4 462.8,158.0 463.1,160.8 462.9,161.4 462.6,161.8 462.2,161.9 460.2,162.1 459.2,162.0 457.6,161.3 457.0,161.2 454.6,161.7 453.0,161.8 451.2,162.4Z M462.2,148.2 462.8,147.6 462.9,147.0 462.6,146.7 462.2,146.6 461.4,146.8 461.0,147.2 461.0,147.8 461.6,148.3 462.2,148.2Z" fill="#3a3a3a" stroke="none"/><path d="M448.0,183.4 447.6,183.5 447.2,183.3 446.8,182.7 446.6,182.0 446.2,179.6 446.2,176.8 445.4,174.2 444.8,173.0 444.6,172.4 444.6,171.4 444.9,170.2 444.8,169.8 444.2,169.1 443.4,168.8 443.0,168.8 442.2,169.4 441.8,169.4 441.2,169.0 440.9,168.2 441.0,167.6 441.2,167.3 443.1,165.8 444.2,165.2 445.4,165.2 445.6,165.0 445.6,164.8 445.2,163.8 443.4,162.1 442.7,161.2 442.4,160.6 442.3,159.8 442.3,159.0 442.7,158.2 443.2,157.8 445.1,157.2 445.7,156.6 446.0,155.9 445.7,153.0 444.3,151.0 443.7,148.2 443.7,147.6 443.9,147.2 445.6,145.8 445.9,145.0 445.8,142.8 445.6,142.2 445.4,142.0 444.2,141.5 443.9,141.2 443.7,140.8 444.3,137.8 444.6,137.4 445.0,137.1 446.4,136.7 447.4,136.5 448.8,136.9 449.4,136.8 450.8,135.7 451.6,135.6 452.2,135.7 454.0,136.6 456.8,137.6 458.8,137.7 459.8,138.4 460.4,138.6 461.8,138.6 464.0,137.9 464.6,137.9 464.9,138.2 465.1,138.6 465.4,140.4 465.7,141.6 465.8,142.2 465.5,143.4 465.5,143.8 465.8,144.4 467.1,146.4 467.3,146.8 466.8,148.1 466.5,150.0 466.3,150.6 465.2,152.2 464.9,153.0 464.9,153.8 465.3,155.4 465.3,156.2 464.9,157.6 464.2,158.7 464.0,159.6 464.2,160.6 464.9,162.2 465.0,164.0 464.6,164.8 463.4,165.8 463.0,166.4 463.0,167.2 463.3,168.8 462.7,170.8 463.3,172.6 463.2,173.4 462.7,174.2 460.7,176.4 459.4,177.3 458.8,177.5 458.2,177.4 456.4,176.6 456.0,176.6 455.6,176.8 455.4,177.2 455.4,177.6 455.8,179.6 455.6,180.2 455.2,180.5 454.4,180.8 453.0,180.6 451.6,181.8 449.8,182.3 448.0,183.4Z M451.0,177.6 450.0,177.5 449.0,177.0 448.0,175.9 447.5,174.8 447.6,174.0 448.4,173.2 448.7,172.6 449.6,171.8 450.0,171.0 449.9,170.2 449.6,169.2 448.5,167.8 448.2,167.2 448.1,166.4 448.4,165.2 448.2,164.6 447.6,163.8 446.6,162.8 445.9,162.4 444.4,161.9 443.4,161.2 442.8,160.4 442.6,159.4 442.7,158.8 443.0,158.3 443.4,158.1 445.3,157.4 446.0,156.8 446.3,156.0 446.1,152.8 445.8,152.3 444.9,151.4 444.5,150.8 444.1,149.6 443.9,148.4 444.2,147.4 445.8,146.0 446.2,145.4 446.3,145.0 446.2,142.0 445.8,141.5 444.6,141.0 444.3,140.6 444.6,138.0 444.8,137.6 445.2,137.3 446.6,136.9 447.4,136.9 448.8,137.3 449.4,137.4 449.8,137.2 450.8,136.2 451.6,136.0 452.4,136.1 454.1,137.0 457.2,138.0 458.4,138.2 460.2,138.9 461.0,139.0 462.2,138.8 464.2,138.3 464.6,138.4 465.0,139.0 465.2,141.2 465.1,142.0 464.8,143.0 464.7,143.6 466.3,145.8 466.5,146.4 466.6,147.0 466.3,150.2 465.9,151.0 464.9,152.2 464.6,152.8 464.6,153.8 464.8,155.6 464.8,156.4 464.5,157.2 463.8,158.5 463.7,159.2 463.8,160.4 464.1,161.6 464.0,162.2 463.6,162.5 463.0,162.7 459.3,163.2 459.0,163.6 459.0,164.4 459.1,165.2 460.9,167.6 461.0,168.0 460.9,168.4 460.6,168.7 459.5,169.2 459.1,169.6 458.6,170.8 458.9,171.8 458.8,172.0 456.0,172.8 454.6,172.7 454.1,172.8 454.0,173.2 453.9,174.2 453.0,175.4 452.4,177.0 451.9,177.4 451.0,177.6Z M449.8,164.4 449.4,164.4 449.0,164.1 447.9,162.6 447.2,162.0 446.6,161.8 444.8,161.6 444.0,161.2 443.4,160.6 443.1,159.8 443.1,159.2 443.3,158.6 443.8,158.3 445.3,157.8 445.9,157.4 446.6,156.7 446.8,156.0 446.5,152.6 446.2,152.0 445.2,151.2 444.7,150.6 444.5,150.0 444.3,148.8 444.3,148.2 444.5,147.6 446.4,145.9 446.7,145.4 446.7,145.0 446.7,142.0 446.2,141.2 445.2,140.4 445.0,140.0 444.9,138.8 445.1,138.0 445.8,137.5 447.0,137.2 447.6,137.3 449.2,138.0 449.7,138.0 450.1,137.8 451.0,136.7 451.4,136.5 451.8,136.5 452.4,136.7 453.6,137.4 455.8,137.9 459.6,139.4 460.8,139.4 463.8,138.8 464.4,138.9 464.7,139.4 464.7,140.6 464.5,141.4 463.8,142.6 463.8,143.4 464.1,144.2 465.4,145.4 465.9,146.2 466.1,149.4 466.1,150.0 465.8,150.6 464.5,152.0 464.3,152.6 464.0,156.2 463.3,158.4 463.3,159.4 463.5,161.2 463.4,161.8 463.2,162.1 462.6,162.3 460.4,162.6 459.4,162.5 457.4,161.8 456.2,161.8 453.4,162.6 451.6,163.4 450.4,164.2 449.8,164.4Z M451.2,162.4 450.2,162.6 449.6,162.5 447.6,161.3 447.0,161.1 444.8,161.0 444.0,160.6 443.6,159.8 443.6,159.2 443.8,158.8 445.4,158.2 446.4,157.6 447.0,157.0 447.3,156.2 447.1,154.6 447.1,153.2 446.9,152.4 446.4,151.6 445.0,150.4 444.6,149.2 444.7,148.2 445.0,147.6 446.9,146.0 447.2,145.6 447.3,145.2 447.1,141.8 446.6,140.9 445.6,139.6 445.5,139.0 445.6,138.3 445.9,138.0 446.4,137.8 447.4,137.8 448.2,138.1 449.8,139.2 450.4,139.3 450.8,139.0 451.2,137.6 451.4,137.4 451.8,137.3 453.4,138.1 455.2,138.2 455.8,138.4 457.7,139.4 459.4,140.1 460.6,140.1 462.6,139.6 464.0,139.4 464.3,139.8 464.3,140.4 464.0,140.9 463.0,141.7 462.9,142.6 463.2,143.7 463.6,144.6 464.0,145.1 464.8,145.8 465.2,146.4 465.8,149.6 465.7,150.2 465.4,150.6 464.3,151.6 463.9,152.2 463.7,154.0 463.3,155.4 462.8,158.0 463.1,160.8 462.9,161.4 462.6,161.8 462.2,161.9 460.2,162.1 459.2,162.0 457.6,161.3 457.0,161.2 454.6,161.7 453.0,161.8 451.2,162.4Z M462.2,148.2 462.8,147.6 462.9,147.0 462.6,146.7 462.2,146.6 461.4,146.8 461.0,147.2 461.0,147.8 461.6,148.3 462.2,148.2Z M461.6,161.8 459.6,161.9 457.4,161.0 454.4,161.5 452.8,161.1 451.4,161.8 450.2,161.9 449.2,161.7 448.4,161.2 448.2,160.8 448.2,160.2 448.0,159.9 447.6,160.0 447.0,160.4 445.4,160.8 444.6,160.7 444.1,160.2 443.8,159.6 444.0,159.0 445.6,158.3 446.8,157.6 447.3,157.0 447.5,156.4 447.3,154.6 447.4,153.2 447.2,152.4 446.6,151.5 445.2,150.3 444.9,149.8 444.8,149.0 444.9,148.2 445.2,147.6 445.8,147.0 447.1,146.2 447.5,145.8 447.6,145.4 447.3,143.8 447.2,141.6 445.8,139.2 445.8,138.6 446.2,138.2 447.0,138.0 447.8,138.2 448.5,138.6 449.6,139.7 450.4,140.0 451.0,139.9 451.4,139.6 452.0,138.3 453.2,138.6 455.6,138.6 457.6,139.8 459.4,140.4 461.2,140.4 462.2,140.0 463.2,139.7 463.8,139.8 464.0,140.0 463.8,140.6 462.5,141.4 462.4,142.0 463.0,143.9 463.8,146.0 463.9,146.2 464.6,146.6 465.0,147.2 465.5,149.0 465.6,149.8 465.2,150.6 464.0,151.4 463.8,151.8 463.6,153.6 463.0,155.2 462.5,157.8 462.8,161.0 462.4,161.5 461.6,161.8Z M462.3,148.6 462.9,148.2 463.4,147.4 463.7,146.8 463.6,146.4 462.8,146.3 461.8,146.4 461.2,146.6 460.8,147.0 460.6,147.6 461.0,148.3 461.6,148.7 462.3,148.6Z M461.2,161.6 460.2,161.7 459.4,161.6 457.6,160.7 455.2,161.1 454.4,161.1 454.0,161.0 453.3,160.4 452.8,160.3 452.2,160.5 451.2,161.3 450.6,161.5 450.0,161.4 449.0,161.0 448.8,160.6 448.7,159.6 448.4,159.3 448.0,159.2 447.4,159.3 446.4,160.1 445.4,160.4 444.8,160.4 444.3,160.0 444.2,159.6 444.4,159.2 445.8,158.5 447.0,157.8 447.5,157.2 447.7,156.4 447.6,154.6 447.6,153.2 447.5,152.6 446.8,151.4 445.4,150.2 445.1,149.6 445.0,149.0 445.1,148.2 445.4,147.6 446.0,147.1 447.5,146.2 447.8,145.6 447.5,143.6 447.4,141.6 446.2,139.2 446.2,138.8 446.5,138.4 447.0,138.2 447.7,138.4 448.2,138.8 449.3,140.0 449.8,140.3 450.4,140.4 451.3,140.2 453.1,139.2 455.4,138.9 456.0,139.1 457.2,139.9 458.6,140.5 461.0,141.0 461.5,141.2 461.8,141.6 462.5,143.2 463.1,145.4 462.8,145.9 461.4,146.2 460.8,146.6 460.4,147.2 460.4,148.0 461.2,148.8 461.8,149.1 462.2,149.1 462.8,148.8 463.8,147.7 464.4,147.5 464.8,147.8 465.0,148.2 465.4,149.6 465.3,150.0 465.0,150.4 463.8,151.1 463.4,151.6 463.4,153.6 462.5,155.4 462.3,158.0 462.5,160.8 462.3,161.2 462.0,161.4 461.2,161.6Z M460.6,161.4 459.4,161.4 459.0,161.2 458.2,160.5 457.8,160.3 455.6,160.8 454.8,160.8 454.4,160.7 453.6,159.9 453.0,159.7 452.0,159.9 450.8,160.9 450.0,160.9 449.4,160.6 449.0,159.2 448.6,158.9 448.0,158.7 447.4,158.8 446.0,159.6 445.3,159.8 445.0,159.7 444.9,159.6 445.1,159.4 447.4,157.9 447.8,157.2 448.0,156.6 447.8,154.6 447.9,153.2 447.7,152.6 446.9,151.2 445.5,150.0 445.1,149.0 445.3,148.2 445.7,147.6 446.2,147.2 447.7,146.4 448.1,145.8 448.1,145.2 447.7,143.6 447.6,141.8 446.7,139.2 446.8,138.8 447.2,138.6 447.6,138.7 449.1,140.2 449.8,140.6 450.4,140.7 451.4,140.5 453.8,139.5 455.4,139.3 457.0,140.2 458.6,140.9 460.9,141.4 461.4,141.7 461.9,142.4 462.7,144.4 462.8,145.0 462.7,145.4 462.4,145.7 461.2,146.1 460.6,146.5 460.1,147.2 460.1,148.0 461.0,149.1 462.0,149.7 462.6,149.6 463.8,148.4 464.2,148.2 464.4,148.2 464.9,148.8 465.1,149.6 464.8,150.1 463.4,150.6 463.0,151.0 462.9,151.4 463.2,152.8 463.1,153.4 462.9,154.0 462.1,155.0 462.0,155.4 462.1,156.6 461.9,158.2 462.2,160.6 461.8,161.1 460.6,161.4Z M460.6,161.0 459.8,161.1 459.3,161.0 458.9,160.6 458.6,160.0 458.2,159.8 456.2,160.4 455.4,160.4 454.8,160.2 454.0,159.5 453.4,159.3 451.8,159.5 450.6,160.1 450.2,160.1 450.0,160.0 449.7,159.2 449.4,158.8 448.0,158.0 448.2,156.4 448.1,154.6 448.2,153.0 447.9,152.4 447.0,151.1 445.6,149.8 445.3,149.0 445.4,148.4 445.8,147.8 446.4,147.3 448.0,146.6 448.4,146.0 448.4,145.2 447.8,143.4 447.8,141.8 447.5,140.2 447.6,139.7 448.0,139.8 449.4,140.7 450.4,141.0 451.2,140.9 454.2,139.9 455.4,139.8 456.8,140.6 458.8,141.3 460.6,141.6 461.2,142.0 461.8,142.7 462.4,144.2 462.4,145.2 462.0,145.6 461.0,146.0 460.4,146.4 460.0,147.0 459.7,147.8 459.9,148.4 460.8,149.4 461.1,150.0 461.0,151.6 462.0,151.7 462.4,151.9 462.7,152.4 462.9,153.0 462.8,153.4 462.6,153.8 461.3,154.8 461.2,155.2 461.6,156.2 461.7,156.8 461.3,158.4 460.8,159.0 460.8,159.2 461.4,160.0 461.5,160.4 461.2,160.8 460.6,161.0Z M456.2,160.0 455.4,159.9 454.4,159.1 453.8,158.9 450.8,158.9 450.0,158.3 448.8,157.9 448.5,157.6 448.3,154.8 448.7,153.4 448.6,153.0 448.3,152.4 447.0,150.7 445.8,149.6 445.6,149.0 445.7,148.4 446.1,147.8 448.4,146.8 448.8,146.2 448.7,145.2 448.2,144.0 448.0,143.2 448.1,141.8 448.0,140.8 448.2,140.6 449.8,141.2 450.6,141.4 454.0,140.5 455.2,140.4 455.6,140.6 456.0,141.0 456.2,141.8 456.4,141.8 456.8,141.4 457.4,141.3 458.0,141.4 459.0,142.1 459.8,141.9 460.4,142.0 461.2,142.5 461.8,143.4 462.2,144.4 462.2,145.0 461.8,145.4 460.8,145.8 460.2,146.2 459.7,147.0 459.2,148.0 459.3,148.4 460.1,149.2 460.4,149.8 460.4,150.4 460.1,151.8 460.2,152.6 460.4,153.2 460.3,154.8 460.5,155.8 460.9,156.6 460.9,157.0 460.6,157.4 459.4,157.9 457.8,157.5 457.4,158.0 457.5,159.0 457.3,159.4 456.8,159.8 456.2,160.0Z M462.0,153.6 461.6,153.7 461.2,153.5 460.9,153.2 460.9,153.0 461.6,152.5 462.2,152.6 462.4,152.8 462.4,153.2 462.0,153.6Z M455.6,158.9 454.2,158.5 452.5,158.4 452.0,158.2 451.8,158.0 452.0,157.0 451.8,156.8 451.4,156.6 450.6,156.6 450.0,157.2 449.6,157.4 449.2,157.4 448.8,157.0 448.8,154.8 449.2,153.4 449.2,153.0 448.9,152.4 447.8,151.3 446.9,150.0 446.2,149.4 446.0,148.8 446.1,148.4 446.4,148.1 448.6,147.3 449.0,147.0 449.3,146.4 449.4,145.8 449.4,145.4 448.4,143.8 448.2,143.2 448.4,142.1 448.8,141.6 449.2,141.6 450.6,142.0 452.0,141.4 454.2,141.0 454.6,141.1 454.8,141.4 454.8,142.6 455.0,143.1 455.4,143.1 457.2,143.0 458.2,143.9 458.8,144.1 459.3,143.8 459.8,142.8 460.1,142.6 460.4,142.6 461.1,143.0 461.6,143.8 461.8,144.6 461.6,145.0 460.2,145.8 459.2,147.1 458.2,147.8 458.0,148.2 458.2,148.6 459.4,149.4 459.7,150.0 459.6,154.8 459.4,155.8 459.0,156.3 458.6,156.5 458.0,156.3 457.2,155.5 456.8,155.5 456.5,156.0 455.7,158.8 455.6,158.9Z M456.5,149.8 457.0,149.2 457.1,148.6 456.0,147.8 455.6,146.9 455.4,147.0 455.4,147.2 455.7,147.8 455.8,149.3 456.0,149.7 456.2,149.8 456.5,149.8Z M454.4,152.6 453.8,152.7 453.4,152.5 452.7,151.4 452.4,150.6 452.0,150.2 451.5,150.2 451.1,150.6 451.1,151.0 451.4,151.8 451.3,152.0 450.0,152.6 449.8,152.6 449.4,152.3 447.8,150.8 447.6,150.0 447.8,149.6 448.2,149.6 449.0,149.8 449.2,149.6 449.3,149.2 448.9,148.4 448.9,148.2 450.0,146.4 450.2,145.8 450.1,145.2 450.0,144.8 449.2,144.5 448.5,143.6 448.4,142.8 448.8,142.1 449.4,142.1 450.2,142.6 450.4,143.0 450.5,143.8 450.6,144.0 450.8,144.0 451.1,143.6 451.0,142.8 451.4,142.2 452.2,141.8 453.6,141.4 454.0,141.4 454.3,141.8 454.2,142.4 454.0,143.2 453.4,143.9 453.3,144.4 453.6,145.0 454.6,145.5 455.0,145.6 455.2,145.4 455.3,144.0 455.6,143.7 456.2,143.5 456.8,143.5 457.2,143.6 458.4,144.5 458.8,144.7 459.4,144.7 460.2,144.4 460.3,144.8 460.2,145.2 459.2,146.6 458.8,146.9 457.2,147.7 456.8,147.6 456.6,147.4 456.0,146.1 455.6,145.8 455.2,145.7 454.7,146.8 454.7,147.2 455.2,148.4 455.2,149.8 455.7,151.0 455.7,151.8 455.4,152.3 454.4,152.6Z M460.4,144.3 460.2,143.8 460.4,143.5 460.6,143.5 460.8,143.8 460.7,144.0 460.4,144.3Z M458.6,155.6 458.4,155.6 457.4,154.8 456.4,154.5 456.2,154.2 456.5,153.0 457.5,152.4 457.8,152.0 457.9,151.2 457.4,150.0 457.6,149.6 458.0,149.3 458.4,149.4 458.8,149.8 459.4,151.4 459.2,153.8 458.8,155.3 458.6,155.6Z M454.8,158.0 454.4,158.1 453.4,158.1 453.0,158.0 452.7,157.8 452.7,157.4 452.9,157.0 453.9,156.4 453.9,155.8 453.6,155.4 453.2,155.4 452.4,156.1 452.0,156.2 450.2,155.8 450.0,155.9 449.6,156.6 449.4,156.7 449.2,156.6 449.1,156.2 449.4,155.0 449.6,154.7 450.2,154.9 450.6,154.7 451.6,154.0 452.4,153.1 452.6,153.1 453.2,153.2 453.7,154.0 454.2,154.4 455.9,154.6 456.1,155.0 456.0,155.9 454.8,158.0Z" fill="none" stroke="#1a1a1a" stroke-width="0.55" stroke-linejoin="round"/><path d="M460.8,161.2 460.0,161.3 459.4,161.2 458.0,160.1 456.0,160.6 455.0,160.6 454.6,160.5 453.8,159.7 453.2,159.5 452.0,159.7 451.6,159.9 450.8,160.6 450.4,160.7 450.0,160.6 449.6,160.3 449.4,159.4 449.1,159.0 447.7,158.2 448.1,156.6 447.9,154.6 448.0,153.0 447.7,152.2 447.0,151.2 445.5,149.8 445.2,149.0 445.4,148.2 445.8,147.6 447.8,146.5 448.1,146.2 448.3,145.8 448.3,145.2 447.8,143.6 447.7,141.8 447.1,139.4 447.2,139.0 447.8,139.2 449.2,140.4 450.4,140.8 451.4,140.6 454.0,139.7 455.4,139.5 456.8,140.3 458.8,141.1 460.8,141.5 461.4,142.0 461.8,142.5 462.5,144.2 462.6,145.2 462.3,145.6 461.0,146.1 460.5,146.4 460.1,147.0 459.9,147.8 460.1,148.4 461.4,149.8 462.4,151.2 462.9,152.4 463.0,153.2 462.8,153.9 461.9,154.8 461.7,155.2 461.9,156.6 461.7,158.2 461.9,160.6 461.5,161.0 460.8,161.2Z M464.4,150.0 463.6,150.0 463.3,149.8 463.4,149.2 464.0,148.6 464.4,148.7 464.8,149.2 464.8,149.7 464.4,150.0Z M455.2,158.5 452.3,158.2 452.1,157.8 452.2,157.2 452.1,156.8 451.4,156.5 450.5,156.4 449.6,157.2 449.2,157.2 448.9,157.0 448.8,156.2 448.9,154.8 449.0,154.2 449.4,153.4 449.4,153.0 449.0,152.4 447.8,151.2 447.0,149.9 446.3,149.2 446.1,148.8 446.2,148.4 446.6,148.1 448.8,147.4 449.5,146.4 449.6,145.8 449.6,145.4 448.6,144.1 448.3,143.2 448.4,142.3 448.8,141.8 449.2,141.7 450.6,142.2 452.0,141.6 453.6,141.1 454.2,141.1 454.6,141.4 454.7,141.6 454.6,142.8 454.7,143.2 455.0,143.4 457.0,143.1 457.4,143.3 458.4,144.2 459.0,144.3 459.4,144.0 460.0,142.9 460.4,142.7 461.0,143.1 461.5,144.0 461.6,144.4 461.6,144.8 460.4,145.5 459.0,147.1 458.2,147.6 457.4,148.3 456.8,148.1 456.4,147.8 455.8,146.6 455.4,146.5 455.2,146.8 455.1,147.2 455.5,148.2 455.6,149.4 456.0,150.1 456.4,150.3 456.6,150.2 457.6,148.7 458.2,148.8 458.9,149.2 459.3,149.6 459.6,151.4 459.4,155.0 459.2,155.8 458.8,156.2 458.4,156.3 458.0,156.1 457.2,155.3 456.8,155.2 456.6,155.4 455.5,158.2 455.2,158.5Z M454.6,144.8 454.6,144.4 454.5,144.2 454.2,144.1 454.0,144.2 453.9,144.4 454.0,144.8 454.4,145.0 454.6,144.8Z M457.0,152.0 457.3,151.8 457.4,151.3 457.2,151.0 456.6,150.7 456.4,151.2 456.4,151.6 456.6,151.9 457.0,152.0Z M451.0,153.8 451.2,153.6 451.3,153.2 451.3,153.0 451.0,152.8 450.6,153.0 450.3,153.4 450.5,153.8 451.0,153.8Z M455.2,154.0 455.6,153.8 455.6,153.2 455.0,153.1 454.4,153.4 454.5,153.8 454.8,154.0 455.2,154.0Z" fill="none" stroke="#fff" stroke-width="0.35" stroke-opacity="0.7"/>
<rect x="292.30" y="228.60" width="86.30" height="79.50" fill="none" stroke="#1a1a1a" stroke-width="0.95"/>
<line x1="292.30" y1="228.20" x2="292.30" y2="308.50" stroke="#222" stroke-width="1.3"/>
<line x1="291.90" y1="308.10" x2="378.60" y2="308.10" stroke="#222" stroke-width="1.0"/>
<line x1="292.30" y1="278.50" x2="378.60" y2="278.50" stroke="#222" stroke-width="0.85"/>
<line x1="290.10" y1="308.10" x2="292.30" y2="308.10" stroke="#111" stroke-width="0.8"/>
<line x1="291.40" y1="302.12" x2="292.60" y2="302.12" stroke="#111" stroke-width="0.7"/>
<line x1="291.40" y1="298.62" x2="292.60" y2="298.62" stroke="#111" stroke-width="0.7"/>
<line x1="291.40" y1="296.13" x2="292.60" y2="296.13" stroke="#111" stroke-width="0.7"/>
<line x1="291.40" y1="294.21" x2="292.60" y2="294.21" stroke="#111" stroke-width="0.7"/>
<line x1="291.40" y1="292.63" x2="292.60" y2="292.63" stroke="#111" stroke-width="0.7"/>
<line x1="291.40" y1="291.30" x2="292.60" y2="291.30" stroke="#111" stroke-width="0.7"/>
<line x1="291.40" y1="290.15" x2="292.60" y2="290.15" stroke="#111" stroke-width="0.7"/>
<line x1="291.40" y1="289.13" x2="292.60" y2="289.13" stroke="#111" stroke-width="0.7"/>
<text transform="translate(287.40,309.20) rotate(-90)" font-size="4.6" text-anchor="middle" fill="#111" stroke="#111" stroke-width="0.3">10</text>
<text transform="translate(284.20,306.10) rotate(-90)" font-size="3.5" fill="#111" stroke="#111" stroke-width="0.3">0</text>
<line x1="290.10" y1="288.23" x2="292.30" y2="288.23" stroke="#111" stroke-width="0.8"/>
<line x1="291.40" y1="282.24" x2="292.60" y2="282.24" stroke="#111" stroke-width="0.7"/>
<line x1="291.40" y1="278.74" x2="292.60" y2="278.74" stroke="#111" stroke-width="0.7"/>
<line x1="291.40" y1="276.26" x2="292.60" y2="276.26" stroke="#111" stroke-width="0.7"/>
<line x1="291.40" y1="274.33" x2="292.60" y2="274.33" stroke="#111" stroke-width="0.7"/>
<line x1="291.40" y1="272.76" x2="292.60" y2="272.76" stroke="#111" stroke-width="0.7"/>
<line x1="291.40" y1="271.43" x2="292.60" y2="271.43" stroke="#111" stroke-width="0.7"/>
<line x1="291.40" y1="270.28" x2="292.60" y2="270.28" stroke="#111" stroke-width="0.7"/>
<line x1="291.40" y1="269.26" x2="292.60" y2="269.26" stroke="#111" stroke-width="0.7"/>
<text transform="translate(287.40,289.33) rotate(-90)" font-size="4.6" text-anchor="middle" fill="#111" stroke="#111" stroke-width="0.3">10</text>
<text transform="translate(284.20,286.23) rotate(-90)" font-size="3.5" fill="#111" stroke="#111" stroke-width="0.3">1</text>
<line x1="290.10" y1="268.35" x2="292.30" y2="268.35" stroke="#111" stroke-width="0.8"/>
<line x1="291.40" y1="262.37" x2="292.60" y2="262.37" stroke="#111" stroke-width="0.7"/>
<line x1="291.40" y1="258.87" x2="292.60" y2="258.87" stroke="#111" stroke-width="0.7"/>
<line x1="291.40" y1="256.38" x2="292.60" y2="256.38" stroke="#111" stroke-width="0.7"/>
<line x1="291.40" y1="254.46" x2="292.60" y2="254.46" stroke="#111" stroke-width="0.7"/>
<line x1="291.40" y1="252.88" x2="292.60" y2="252.88" stroke="#111" stroke-width="0.7"/>
<line x1="291.40" y1="251.55" x2="292.60" y2="251.55" stroke="#111" stroke-width="0.7"/>
<line x1="291.40" y1="250.40" x2="292.60" y2="250.40" stroke="#111" stroke-width="0.7"/>
<line x1="291.40" y1="249.38" x2="292.60" y2="249.38" stroke="#111" stroke-width="0.7"/>
<text transform="translate(287.40,269.45) rotate(-90)" font-size="4.6" text-anchor="middle" fill="#111" stroke="#111" stroke-width="0.3">10</text>
<text transform="translate(284.20,266.35) rotate(-90)" font-size="3.5" fill="#111" stroke="#111" stroke-width="0.3">2</text>
<line x1="290.10" y1="248.47" x2="292.30" y2="248.47" stroke="#111" stroke-width="0.8"/>
<line x1="291.40" y1="242.49" x2="292.60" y2="242.49" stroke="#111" stroke-width="0.7"/>
<line x1="291.40" y1="238.99" x2="292.60" y2="238.99" stroke="#111" stroke-width="0.7"/>
<line x1="291.40" y1="236.51" x2="292.60" y2="236.51" stroke="#111" stroke-width="0.7"/>
<line x1="291.40" y1="234.58" x2="292.60" y2="234.58" stroke="#111" stroke-width="0.7"/>
<line x1="291.40" y1="233.01" x2="292.60" y2="233.01" stroke="#111" stroke-width="0.7"/>
<line x1="291.40" y1="231.68" x2="292.60" y2="231.68" stroke="#111" stroke-width="0.7"/>
<line x1="291.40" y1="230.53" x2="292.60" y2="230.53" stroke="#111" stroke-width="0.7"/>
<line x1="291.40" y1="229.51" x2="292.60" y2="229.51" stroke="#111" stroke-width="0.7"/>
<text transform="translate(287.40,249.57) rotate(-90)" font-size="4.6" text-anchor="middle" fill="#111" stroke="#111" stroke-width="0.3">10</text>
<text transform="translate(284.20,246.47) rotate(-90)" font-size="3.5" fill="#111" stroke="#111" stroke-width="0.3">3</text>
<line x1="290.10" y1="228.60" x2="292.30" y2="228.60" stroke="#111" stroke-width="0.8"/>
<text transform="translate(287.40,229.70) rotate(-90)" font-size="4.6" text-anchor="middle" fill="#111" stroke="#111" stroke-width="0.3">10</text>
<text transform="translate(284.20,226.60) rotate(-90)" font-size="3.5" fill="#111" stroke="#111" stroke-width="0.3">4</text>
<line x1="292.30" y1="308.10" x2="292.30" y2="310.50" stroke="#222" stroke-width="0.8"/>
<line x1="295.64" y1="308.10" x2="295.64" y2="309.80" stroke="#222" stroke-width="0.75"/>
<line x1="298.97" y1="308.10" x2="298.97" y2="309.80" stroke="#222" stroke-width="0.75"/>
<line x1="302.31" y1="308.10" x2="302.31" y2="309.80" stroke="#222" stroke-width="0.75"/>
<line x1="305.64" y1="308.10" x2="305.64" y2="309.80" stroke="#222" stroke-width="0.75"/>
<line x1="308.98" y1="308.10" x2="308.98" y2="310.50" stroke="#222" stroke-width="0.8"/>
<line x1="312.32" y1="308.10" x2="312.32" y2="309.80" stroke="#222" stroke-width="0.75"/>
<line x1="315.65" y1="308.10" x2="315.65" y2="309.80" stroke="#222" stroke-width="0.75"/>
<line x1="318.99" y1="308.10" x2="318.99" y2="309.80" stroke="#222" stroke-width="0.75"/>
<line x1="322.32" y1="308.10" x2="322.32" y2="309.80" stroke="#222" stroke-width="0.75"/>
<line x1="325.66" y1="308.10" x2="325.66" y2="310.50" stroke="#222" stroke-width="0.8"/>
<line x1="329.00" y1="308.10" x2="329.00" y2="309.80" stroke="#222" stroke-width="0.75"/>
<line x1="332.33" y1="308.10" x2="332.33" y2="309.80" stroke="#222" stroke-width="0.75"/>
<line x1="335.67" y1="308.10" x2="335.67" y2="309.80" stroke="#222" stroke-width="0.75"/>
<line x1="339.00" y1="308.10" x2="339.00" y2="309.80" stroke="#222" stroke-width="0.75"/>
<line x1="342.34" y1="308.10" x2="342.34" y2="310.50" stroke="#222" stroke-width="0.8"/>
<line x1="345.68" y1="308.10" x2="345.68" y2="309.80" stroke="#222" stroke-width="0.75"/>
<line x1="349.01" y1="308.10" x2="349.01" y2="309.80" stroke="#222" stroke-width="0.75"/>
<line x1="352.35" y1="308.10" x2="352.35" y2="309.80" stroke="#222" stroke-width="0.75"/>
<line x1="355.68" y1="308.10" x2="355.68" y2="309.80" stroke="#222" stroke-width="0.75"/>
<line x1="359.02" y1="308.10" x2="359.02" y2="310.50" stroke="#222" stroke-width="0.8"/>
<line x1="362.36" y1="308.10" x2="362.36" y2="309.80" stroke="#222" stroke-width="0.75"/>
<line x1="365.69" y1="308.10" x2="365.69" y2="309.80" stroke="#222" stroke-width="0.75"/>
<line x1="369.03" y1="308.10" x2="369.03" y2="309.80" stroke="#222" stroke-width="0.75"/>
<line x1="372.36" y1="308.10" x2="372.36" y2="309.80" stroke="#222" stroke-width="0.75"/>
<line x1="375.70" y1="308.10" x2="375.70" y2="310.50" stroke="#222" stroke-width="0.8"/>
<text x="292.80" y="314.70" font-size="4.4" stroke="#222" stroke-width="0.25" text-anchor="middle" fill="#222">0</text>
<text x="309.48" y="314.70" font-size="4.4" stroke="#222" stroke-width="0.25" text-anchor="middle" fill="#222">200</text>
<text x="326.16" y="314.70" font-size="4.4" stroke="#222" stroke-width="0.25" text-anchor="middle" fill="#222">400</text>
<text x="342.84" y="314.70" font-size="4.4" stroke="#222" stroke-width="0.25" text-anchor="middle" fill="#222">600</text>
<text x="359.52" y="314.70" font-size="4.4" stroke="#222" stroke-width="0.25" text-anchor="middle" fill="#222">800</text>
<text x="376.20" y="314.70" font-size="4.4" stroke="#222" stroke-width="0.25" text-anchor="middle" fill="#222">1000</text>
<text transform="translate(275.90,266.70) rotate(-90)" font-size="8.3" font-weight="bold" text-anchor="middle" textLength="21" lengthAdjust="spacingAndGlyphs" fill="#000">CD16</text>
<text x="301.70" y="328.90" font-size="8.4" font-weight="bold" textLength="63.2" lengthAdjust="spacingAndGlyphs" fill="#000">Forward Scatter</text>
<text x="268.70" y="223.40" font-size="16.5" font-weight="bold" fill="#000">F</text>
<text x="298.00" y="240.00" font-size="6.2" stroke="#1a1a1a" stroke-width="0.22" textLength="52.5" lengthAdjust="spacingAndGlyphs">Migrated NK cells to</text>
<text x="298.00" y="246.30" font-size="6.2" stroke="#1a1a1a" stroke-width="0.22" textLength="49.8" lengthAdjust="spacingAndGlyphs">CXCL10 (50ng/mL)</text>
<text x="336.00" y="264.40" font-size="7.9" font-weight="bold" textLength="15.0" lengthAdjust="spacingAndGlyphs" fill="#000">86%</text>
<text x="336.00" y="293.20" font-size="7.9" font-weight="bold" textLength="15.0" lengthAdjust="spacingAndGlyphs" fill="#000">14%</text>
<path d="M316.8,280.0 315.6,279.9 313.8,279.3 312.0,279.8 311.0,279.8 310.4,279.4 309.7,278.2 309.1,276.4 309.1,274.0 308.8,272.0 308.9,271.4 309.8,270.2 310.0,269.8 309.9,269.2 309.4,267.8 309.5,267.0 309.8,266.4 310.4,266.0 311.2,265.8 313.2,265.7 315.8,265.0 316.4,265.1 318.2,265.6 320.0,265.4 320.4,265.5 320.8,265.9 321.8,267.6 323.2,267.9 323.8,268.4 323.9,269.4 323.4,271.6 323.6,273.6 323.1,275.2 322.9,277.0 322.7,277.8 322.2,278.3 321.6,278.6 318.4,279.7 316.8,280.0Z" fill="#262626" stroke="none"/><path d="M319.0,292.8 318.0,292.9 316.8,292.4 316.2,292.3 314.6,292.7 313.8,292.7 313.0,292.5 312.5,292.0 311.6,289.6 310.4,288.1 310.0,287.4 309.7,284.6 309.9,283.2 309.8,282.8 309.3,281.8 308.4,279.4 306.7,276.6 306.3,275.6 306.3,275.0 306.7,273.2 306.6,272.5 305.8,270.4 305.8,269.6 306.0,268.8 306.3,268.2 307.4,267.1 308.8,265.2 309.8,264.5 311.6,263.7 313.6,263.8 315.8,263.1 317.8,263.3 319.6,263.0 320.6,263.1 321.9,263.8 323.1,265.4 324.8,266.5 325.3,267.2 325.6,268.2 325.7,269.2 325.4,271.0 325.9,272.2 326.0,272.8 325.2,275.4 325.2,278.0 324.9,278.6 324.4,279.1 321.9,280.4 321.4,280.8 321.2,281.2 321.1,281.6 321.2,282.0 322.6,283.2 322.8,283.7 322.8,284.2 321.3,288.0 320.2,289.3 319.9,289.8 319.9,290.6 320.4,291.6 320.4,292.0 320.0,292.4 319.0,292.8Z M317.4,279.8 316.6,279.9 315.9,279.8 314.2,279.1 313.8,279.0 312.2,279.6 311.2,279.7 310.6,279.4 310.0,278.6 309.2,276.6 309.3,274.0 309.0,272.0 309.1,271.4 309.8,270.4 310.1,269.8 310.0,269.2 309.5,267.8 309.5,267.2 309.8,266.6 310.4,266.1 311.2,265.9 313.2,265.8 315.8,265.1 316.4,265.2 318.2,265.7 320.0,265.5 320.6,265.8 320.9,266.2 321.6,268.0 321.8,268.1 323.0,268.0 323.6,268.4 323.8,268.8 323.8,269.4 323.3,271.6 323.5,273.4 322.9,275.2 322.9,276.8 322.6,277.6 322.2,278.1 321.6,278.5 318.8,279.5 317.4,279.8Z M318.0,279.2 316.6,279.3 315.8,279.0 315.4,278.4 315.4,277.4 315.2,277.1 314.8,277.2 313.0,278.5 312.0,279.0 311.4,279.1 311.0,278.9 310.4,278.3 309.8,277.0 309.6,276.0 309.9,274.0 309.7,272.0 309.8,271.4 310.4,270.4 310.5,269.8 310.5,269.2 310.0,268.0 309.9,267.4 310.0,267.0 310.4,266.6 311.2,266.3 313.2,266.2 315.6,265.6 316.4,265.6 318.0,266.2 320.0,266.0 320.4,266.3 320.6,266.6 320.7,267.0 320.6,268.4 321.0,269.2 321.6,269.6 322.8,269.4 322.9,269.6 322.7,271.6 322.8,273.2 322.4,274.6 322.4,276.6 322.2,277.4 321.8,277.8 321.2,278.2 319.2,278.9 318.0,279.2Z M319.0,278.6 317.8,278.8 317.0,278.6 316.6,278.2 316.4,276.8 316.0,276.4 315.4,276.1 314.6,276.3 313.2,277.7 312.2,278.4 311.4,278.5 310.8,278.0 310.2,277.0 310.1,276.2 310.4,274.0 310.2,272.0 310.9,270.0 310.8,269.2 310.3,267.8 310.4,267.2 310.6,266.9 311.2,266.7 313.2,266.6 315.6,266.0 316.4,266.1 318.0,266.7 319.4,266.5 320.0,266.6 320.2,267.0 320.1,268.2 320.2,269.0 320.8,269.8 321.7,270.6 321.9,271.0 321.9,271.8 321.5,273.4 321.9,275.4 322.0,276.4 321.8,277.1 321.4,277.6 320.2,278.2 319.0,278.6Z M319.2,278.2 318.2,278.3 317.6,278.1 316.7,276.4 316.0,275.8 315.4,275.7 314.8,275.7 314.4,275.9 313.0,277.3 312.2,277.8 311.6,277.9 311.0,277.4 310.7,276.8 310.6,276.2 310.9,274.2 310.8,272.0 311.3,270.0 311.2,269.2 310.7,267.8 310.8,267.4 311.0,267.2 311.6,267.1 313.4,267.1 315.6,266.4 316.4,266.5 317.8,267.1 319.2,267.0 319.6,267.2 319.6,268.4 319.8,269.0 321.1,271.0 321.1,271.6 320.6,272.7 320.5,273.2 320.7,273.8 321.4,275.2 321.6,276.2 321.4,276.8 321.0,277.3 320.2,277.8 319.2,278.2Z M319.4,277.7 318.8,277.8 318.2,277.6 316.9,276.0 316.2,275.5 315.4,275.3 314.8,275.3 314.1,275.6 312.4,277.1 311.8,277.2 311.5,277.0 311.3,276.6 311.2,276.0 311.3,272.4 311.6,270.2 311.6,269.4 311.2,268.0 311.4,267.6 311.8,267.5 313.8,267.6 315.2,267.0 315.8,266.9 316.4,267.0 317.6,267.7 318.8,268.0 319.3,269.2 320.5,270.8 320.5,271.4 319.9,272.6 319.9,273.2 320.0,273.8 320.8,275.2 321.0,275.8 321.0,276.4 320.7,276.8 320.2,277.3 319.4,277.7Z M319.2,276.8 318.6,276.8 316.8,275.5 315.6,275.0 314.4,275.1 312.6,275.9 312.2,275.7 312.0,275.0 311.8,274.0 312.1,271.0 312.0,268.4 312.4,268.2 314.2,268.3 315.6,267.8 316.0,267.8 316.5,268.0 317.5,268.8 318.8,269.6 319.6,270.3 319.9,270.8 319.9,271.2 319.4,272.4 319.3,273.2 320.1,275.2 320.2,275.8 319.9,276.4 319.2,276.8Z M318.6,275.6 318.0,275.5 316.6,274.9 315.6,274.6 314.8,274.6 313.2,275.0 312.7,274.8 312.4,274.2 312.4,273.4 312.7,271.4 312.7,269.8 313.0,269.2 314.1,269.0 315.6,268.9 318.4,270.1 319.1,270.6 319.2,271.2 318.8,272.2 318.7,272.8 319.2,275.0 319.0,275.4 318.6,275.6Z M317.8,274.4 315.6,274.1 313.6,274.2 313.2,274.0 313.1,273.6 313.2,273.0 313.6,271.6 313.7,270.4 314.0,270.0 314.6,269.7 315.4,269.8 317.2,270.4 317.9,270.8 318.1,271.2 317.9,272.4 318.1,274.0 318.0,274.3 317.8,274.4Z" fill="none" stroke="#1a1a1a" stroke-width="0.55" stroke-linejoin="round"/><path d="M319.4,277.0 319.0,277.1 318.6,277.1 316.9,275.6 316.1,275.2 315.4,275.0 314.4,275.2 312.6,276.2 312.2,276.2 311.9,275.6 311.7,274.2 311.8,272.8 312.0,270.8 311.8,268.6 311.8,268.2 312.2,268.1 314.0,268.2 315.6,267.6 316.2,267.6 318.6,269.2 319.7,270.2 320.0,270.8 320.1,271.2 319.5,272.4 319.4,273.2 320.4,275.8 320.2,276.4 319.4,277.0Z" fill="none" stroke="#fff" stroke-width="0.25" stroke-opacity="0.7"/>
<rect x="429.10" y="228.70" width="87.20" height="79.50" fill="none" stroke="#1a1a1a" stroke-width="0.95"/>
<line x1="429.10" y1="228.30" x2="429.10" y2="308.60" stroke="#222" stroke-width="1.3"/>
<line x1="428.70" y1="308.20" x2="516.30" y2="308.20" stroke="#222" stroke-width="1.0"/>
<line x1="429.10" y1="278.50" x2="516.30" y2="278.50" stroke="#222" stroke-width="0.85"/>
<line x1="426.90" y1="308.20" x2="429.10" y2="308.20" stroke="#111" stroke-width="0.8"/>
<line x1="428.20" y1="302.22" x2="429.40" y2="302.22" stroke="#111" stroke-width="0.7"/>
<line x1="428.20" y1="298.72" x2="429.40" y2="298.72" stroke="#111" stroke-width="0.7"/>
<line x1="428.20" y1="296.23" x2="429.40" y2="296.23" stroke="#111" stroke-width="0.7"/>
<line x1="428.20" y1="294.31" x2="429.40" y2="294.31" stroke="#111" stroke-width="0.7"/>
<line x1="428.20" y1="292.73" x2="429.40" y2="292.73" stroke="#111" stroke-width="0.7"/>
<line x1="428.20" y1="291.40" x2="429.40" y2="291.40" stroke="#111" stroke-width="0.7"/>
<line x1="428.20" y1="290.25" x2="429.40" y2="290.25" stroke="#111" stroke-width="0.7"/>
<line x1="428.20" y1="289.23" x2="429.40" y2="289.23" stroke="#111" stroke-width="0.7"/>
<text transform="translate(424.20,309.30) rotate(-90)" font-size="4.6" text-anchor="middle" fill="#111" stroke="#111" stroke-width="0.3">10</text>
<text transform="translate(421.00,306.20) rotate(-90)" font-size="3.5" fill="#111" stroke="#111" stroke-width="0.3">0</text>
<line x1="426.90" y1="288.32" x2="429.10" y2="288.32" stroke="#111" stroke-width="0.8"/>
<line x1="428.20" y1="282.34" x2="429.40" y2="282.34" stroke="#111" stroke-width="0.7"/>
<line x1="428.20" y1="278.84" x2="429.40" y2="278.84" stroke="#111" stroke-width="0.7"/>
<line x1="428.20" y1="276.36" x2="429.40" y2="276.36" stroke="#111" stroke-width="0.7"/>
<line x1="428.20" y1="274.43" x2="429.40" y2="274.43" stroke="#111" stroke-width="0.7"/>
<line x1="428.20" y1="272.86" x2="429.40" y2="272.86" stroke="#111" stroke-width="0.7"/>
<line x1="428.20" y1="271.53" x2="429.40" y2="271.53" stroke="#111" stroke-width="0.7"/>
<line x1="428.20" y1="270.38" x2="429.40" y2="270.38" stroke="#111" stroke-width="0.7"/>
<line x1="428.20" y1="269.36" x2="429.40" y2="269.36" stroke="#111" stroke-width="0.7"/>
<text transform="translate(424.20,289.43) rotate(-90)" font-size="4.6" text-anchor="middle" fill="#111" stroke="#111" stroke-width="0.3">10</text>
<text transform="translate(421.00,286.32) rotate(-90)" font-size="3.5" fill="#111" stroke="#111" stroke-width="0.3">1</text>
<line x1="426.90" y1="268.45" x2="429.10" y2="268.45" stroke="#111" stroke-width="0.8"/>
<line x1="428.20" y1="262.47" x2="429.40" y2="262.47" stroke="#111" stroke-width="0.7"/>
<line x1="428.20" y1="258.97" x2="429.40" y2="258.97" stroke="#111" stroke-width="0.7"/>
<line x1="428.20" y1="256.48" x2="429.40" y2="256.48" stroke="#111" stroke-width="0.7"/>
<line x1="428.20" y1="254.56" x2="429.40" y2="254.56" stroke="#111" stroke-width="0.7"/>
<line x1="428.20" y1="252.98" x2="429.40" y2="252.98" stroke="#111" stroke-width="0.7"/>
<line x1="428.20" y1="251.65" x2="429.40" y2="251.65" stroke="#111" stroke-width="0.7"/>
<line x1="428.20" y1="250.50" x2="429.40" y2="250.50" stroke="#111" stroke-width="0.7"/>
<line x1="428.20" y1="249.48" x2="429.40" y2="249.48" stroke="#111" stroke-width="0.7"/>
<text transform="translate(424.20,269.55) rotate(-90)" font-size="4.6" text-anchor="middle" fill="#111" stroke="#111" stroke-width="0.3">10</text>
<text transform="translate(421.00,266.45) rotate(-90)" font-size="3.5" fill="#111" stroke="#111" stroke-width="0.3">2</text>
<line x1="426.90" y1="248.57" x2="429.10" y2="248.57" stroke="#111" stroke-width="0.8"/>
<line x1="428.20" y1="242.59" x2="429.40" y2="242.59" stroke="#111" stroke-width="0.7"/>
<line x1="428.20" y1="239.09" x2="429.40" y2="239.09" stroke="#111" stroke-width="0.7"/>
<line x1="428.20" y1="236.61" x2="429.40" y2="236.61" stroke="#111" stroke-width="0.7"/>
<line x1="428.20" y1="234.68" x2="429.40" y2="234.68" stroke="#111" stroke-width="0.7"/>
<line x1="428.20" y1="233.11" x2="429.40" y2="233.11" stroke="#111" stroke-width="0.7"/>
<line x1="428.20" y1="231.78" x2="429.40" y2="231.78" stroke="#111" stroke-width="0.7"/>
<line x1="428.20" y1="230.63" x2="429.40" y2="230.63" stroke="#111" stroke-width="0.7"/>
<line x1="428.20" y1="229.61" x2="429.40" y2="229.61" stroke="#111" stroke-width="0.7"/>
<text transform="translate(424.20,249.67) rotate(-90)" font-size="4.6" text-anchor="middle" fill="#111" stroke="#111" stroke-width="0.3">10</text>
<text transform="translate(421.00,246.57) rotate(-90)" font-size="3.5" fill="#111" stroke="#111" stroke-width="0.3">3</text>
<line x1="426.90" y1="228.70" x2="429.10" y2="228.70" stroke="#111" stroke-width="0.8"/>
<text transform="translate(424.20,229.80) rotate(-90)" font-size="4.6" text-anchor="middle" fill="#111" stroke="#111" stroke-width="0.3">10</text>
<text transform="translate(421.00,226.70) rotate(-90)" font-size="3.5" fill="#111" stroke="#111" stroke-width="0.3">4</text>
<line x1="429.10" y1="308.20" x2="429.10" y2="310.60" stroke="#222" stroke-width="0.8"/>
<line x1="432.47" y1="308.20" x2="432.47" y2="309.90" stroke="#222" stroke-width="0.75"/>
<line x1="435.84" y1="308.20" x2="435.84" y2="309.90" stroke="#222" stroke-width="0.75"/>
<line x1="439.22" y1="308.20" x2="439.22" y2="309.90" stroke="#222" stroke-width="0.75"/>
<line x1="442.59" y1="308.20" x2="442.59" y2="309.90" stroke="#222" stroke-width="0.75"/>
<line x1="445.96" y1="308.20" x2="445.96" y2="310.60" stroke="#222" stroke-width="0.8"/>
<line x1="449.33" y1="308.20" x2="449.33" y2="309.90" stroke="#222" stroke-width="0.75"/>
<line x1="452.70" y1="308.20" x2="452.70" y2="309.90" stroke="#222" stroke-width="0.75"/>
<line x1="456.08" y1="308.20" x2="456.08" y2="309.90" stroke="#222" stroke-width="0.75"/>
<line x1="459.45" y1="308.20" x2="459.45" y2="309.90" stroke="#222" stroke-width="0.75"/>
<line x1="462.82" y1="308.20" x2="462.82" y2="310.60" stroke="#222" stroke-width="0.8"/>
<line x1="466.19" y1="308.20" x2="466.19" y2="309.90" stroke="#222" stroke-width="0.75"/>
<line x1="469.56" y1="308.20" x2="469.56" y2="309.90" stroke="#222" stroke-width="0.75"/>
<line x1="472.94" y1="308.20" x2="472.94" y2="309.90" stroke="#222" stroke-width="0.75"/>
<line x1="476.31" y1="308.20" x2="476.31" y2="309.90" stroke="#222" stroke-width="0.75"/>
<line x1="479.68" y1="308.20" x2="479.68" y2="310.60" stroke="#222" stroke-width="0.8"/>
<line x1="483.05" y1="308.20" x2="483.05" y2="309.90" stroke="#222" stroke-width="0.75"/>
<line x1="486.42" y1="308.20" x2="486.42" y2="309.90" stroke="#222" stroke-width="0.75"/>
<line x1="489.80" y1="308.20" x2="489.80" y2="309.90" stroke="#222" stroke-width="0.75"/>
<line x1="493.17" y1="308.20" x2="493.17" y2="309.90" stroke="#222" stroke-width="0.75"/>
<line x1="496.54" y1="308.20" x2="496.54" y2="310.60" stroke="#222" stroke-width="0.8"/>
<line x1="499.91" y1="308.20" x2="499.91" y2="309.90" stroke="#222" stroke-width="0.75"/>
<line x1="503.28" y1="308.20" x2="503.28" y2="309.90" stroke="#222" stroke-width="0.75"/>
<line x1="506.66" y1="308.20" x2="506.66" y2="309.90" stroke="#222" stroke-width="0.75"/>
<line x1="510.03" y1="308.20" x2="510.03" y2="309.90" stroke="#222" stroke-width="0.75"/>
<line x1="513.40" y1="308.20" x2="513.40" y2="310.60" stroke="#222" stroke-width="0.8"/>
<text x="429.60" y="314.80" font-size="4.4" stroke="#222" stroke-width="0.25" text-anchor="middle" fill="#222">0</text>
<text x="446.46" y="314.80" font-size="4.4" stroke="#222" stroke-width="0.25" text-anchor="middle" fill="#222">200</text>
<text x="463.32" y="314.80" font-size="4.4" stroke="#222" stroke-width="0.25" text-anchor="middle" fill="#222">400</text>
<text x="480.18" y="314.80" font-size="4.4" stroke="#222" stroke-width="0.25" text-anchor="middle" fill="#222">600</text>
<text x="497.04" y="314.80" font-size="4.4" stroke="#222" stroke-width="0.25" text-anchor="middle" fill="#222">800</text>
<text x="513.90" y="314.80" font-size="4.4" stroke="#222" stroke-width="0.25" text-anchor="middle" fill="#222">1000</text>
<text transform="translate(413.60,266.70) rotate(-90)" font-size="8.3" font-weight="bold" text-anchor="middle" textLength="21" lengthAdjust="spacingAndGlyphs" fill="#000">CD16</text>
<text x="444.80" y="328.90" font-size="8.4" font-weight="bold" textLength="63.2" lengthAdjust="spacingAndGlyphs" fill="#000">Forward Scatter</text>
<text x="405.30" y="223.20" font-size="16.5" font-weight="bold" fill="#000">G</text>
<text x="434.70" y="240.00" font-size="6.2" stroke="#1a1a1a" stroke-width="0.22" textLength="54.5" lengthAdjust="spacingAndGlyphs">Migrated NK  cells to</text>
<text x="434.70" y="246.90" font-size="6.2" stroke="#1a1a1a" stroke-width="0.22" textLength="55.2" lengthAdjust="spacingAndGlyphs">CXCL12-α (50ng/mL)</text>
<text x="473.60" y="264.40" font-size="7.9" font-weight="bold" textLength="15.0" lengthAdjust="spacingAndGlyphs" fill="#000">51%</text>
<text x="473.60" y="293.80" font-size="7.9" font-weight="bold" textLength="15.0" lengthAdjust="spacingAndGlyphs" fill="#000">49%</text>
<path d="M458.6,298.0 458.0,298.2 457.6,298.2 455.2,297.6 454.5,297.2 454.2,296.8 454.2,296.5 455.0,295.2 455.0,294.6 454.3,294.0 453.2,293.6 452.4,293.6 451.7,294.0 451.0,294.8 450.2,296.1 449.6,296.6 448.6,296.8 448.2,296.8 447.8,296.6 447.6,296.2 447.6,295.8 448.1,294.2 448.0,293.4 447.6,292.8 446.6,292.3 446.1,291.8 445.9,290.2 444.8,288.8 444.3,286.8 444.3,285.8 444.4,285.2 444.7,284.8 445.5,284.2 445.8,283.8 446.0,282.8 446.0,282.0 445.8,281.6 445.2,281.3 443.4,281.7 443.0,281.5 442.7,281.0 442.4,279.6 442.6,279.2 443.4,278.9 444.4,279.1 446.0,279.7 447.0,279.6 448.1,278.4 449.2,277.6 450.0,276.6 451.0,276.0 451.4,275.6 451.6,275.0 451.4,274.6 451.0,274.3 449.4,273.8 448.6,273.8 447.0,274.6 446.4,274.6 446.1,274.2 446.1,273.8 446.6,272.4 446.0,270.4 446.3,270.0 447.0,269.4 447.3,268.8 447.3,268.2 447.0,266.8 447.1,266.2 447.4,265.7 448.6,264.4 449.2,262.4 449.7,261.8 451.4,260.6 453.0,259.9 454.4,258.9 456.0,258.2 457.0,257.5 457.4,257.3 458.0,257.6 458.8,258.5 459.8,258.8 460.2,259.0 460.6,259.8 461.0,261.4 461.2,261.6 461.8,261.7 462.1,262.0 462.1,262.8 461.0,265.4 461.0,265.8 461.6,267.0 461.6,267.8 461.4,268.4 460.8,269.4 460.7,269.8 461.2,270.4 461.8,270.8 462.4,270.9 463.4,270.7 463.6,271.0 463.4,271.6 463.0,272.3 462.0,273.2 461.2,274.2 459.7,273.6 459.0,273.5 458.4,273.6 458.1,274.0 458.2,275.2 459.1,277.4 459.3,278.8 460.0,280.4 460.7,281.6 460.6,282.4 460.6,283.0 461.0,283.4 462.6,284.5 462.9,285.0 463.0,285.4 462.4,287.0 462.2,288.8 461.3,290.6 461.1,293.0 460.8,293.5 459.6,294.2 459.4,294.6 459.3,295.0 459.7,296.0 459.8,296.6 459.4,297.4 458.6,298.0Z M461.1,263.2 461.2,262.8 461.0,262.2 460.8,262.0 460.6,262.1 460.2,262.4 460.1,263.0 460.6,263.3 461.1,263.2Z M459.8,266.0 460.2,265.6 460.2,265.2 459.8,264.6 459.6,264.4 459.2,264.4 458.8,264.7 458.6,265.0 458.7,265.6 459.2,266.1 459.8,266.0Z M443.4,295.0 442.6,295.0 441.9,294.6 441.6,294.0 441.7,293.4 442.2,293.1 443.0,292.9 443.4,292.9 443.8,293.1 444.0,293.8 444.0,294.4 443.9,294.8 443.4,295.0Z" fill="#2c2c2c" stroke="none"/><path d="M449.2,306.4 448.8,306.2 447.6,304.9 447.0,304.5 446.6,304.3 446.0,304.6 444.6,305.8 444.2,305.9 444.0,305.7 443.9,304.8 444.1,304.2 444.7,303.2 444.8,302.8 444.7,302.2 443.6,300.8 443.2,300.7 442.6,300.7 442.3,300.6 442.2,300.4 442.3,300.0 443.2,299.2 443.6,298.6 443.8,297.8 443.7,297.2 443.2,296.7 441.6,296.2 440.5,295.6 439.6,294.6 439.2,293.8 439.2,293.0 439.6,292.5 440.2,292.2 441.6,292.2 442.4,292.0 443.2,291.4 443.4,290.8 443.2,289.4 443.4,287.8 443.2,286.5 442.4,284.4 441.4,283.6 441.1,283.2 441.0,280.6 439.8,278.6 439.9,278.0 440.8,276.4 440.9,275.8 440.5,274.0 440.5,273.4 440.7,273.0 441.0,272.8 441.4,273.1 442.2,273.9 442.8,274.0 444.5,273.2 445.0,272.8 445.2,272.4 445.2,272.0 445.0,271.6 443.8,270.4 443.7,269.8 444.2,269.0 445.3,268.2 445.6,267.8 446.1,265.6 447.0,263.6 447.1,262.8 446.9,260.8 447.4,255.8 447.5,255.2 447.9,254.4 448.4,254.1 449.2,254.3 451.3,256.0 452.2,257.0 452.6,257.1 455.9,254.2 456.4,253.9 456.8,253.8 457.2,254.0 459.4,255.7 461.4,258.8 462.8,260.1 463.3,260.8 463.5,261.6 463.6,263.6 464.6,266.0 464.2,267.8 465.1,269.8 465.3,272.0 465.1,273.2 464.2,275.4 464.1,276.6 464.4,277.3 466.2,278.8 466.5,279.4 466.6,280.0 466.3,280.6 464.7,281.6 464.2,282.4 464.2,283.2 464.5,284.6 464.5,285.2 463.7,287.2 463.5,287.8 463.9,289.6 463.6,290.0 462.8,290.7 462.5,291.4 462.5,292.0 462.8,293.0 464.0,295.2 464.2,296.0 464.0,296.6 463.4,297.1 461.5,297.8 459.8,299.5 458.4,299.9 457.6,299.8 457.0,299.7 455.5,298.8 453.5,298.0 453.0,298.0 452.6,298.1 452.3,298.4 452.1,299.0 452.5,301.0 452.4,301.9 451.8,302.7 450.0,303.3 449.7,303.6 450.0,305.6 449.7,306.2 449.2,306.4Z M467.6,264.8 467.4,264.6 467.6,264.5 467.8,264.6 467.6,264.8Z M451.4,301.7 450.8,301.7 450.1,301.4 449.9,301.0 449.6,299.4 449.3,299.0 448.8,298.8 448.0,298.8 446.2,299.9 445.6,300.0 445.0,299.8 444.5,299.2 444.3,297.4 443.9,296.6 443.4,296.3 442.2,295.9 441.5,295.6 439.8,293.8 439.7,293.2 440.0,292.8 441.6,292.5 442.7,292.2 443.8,291.6 444.1,291.0 443.7,289.4 443.7,287.8 443.3,285.4 443.4,284.0 443.1,283.6 442.2,283.1 441.7,282.6 441.5,282.0 441.4,280.4 440.6,279.0 440.5,278.4 440.6,277.8 440.9,277.4 441.6,276.9 442.2,277.0 443.4,277.6 443.9,277.6 444.3,277.2 444.3,276.6 443.8,275.4 443.8,274.8 444.1,274.4 445.4,273.0 445.7,272.2 445.4,271.6 444.5,270.6 444.2,270.0 444.3,269.6 444.6,269.3 445.8,268.6 446.1,268.2 446.3,266.2 447.4,264.0 447.5,263.0 447.3,260.6 447.6,258.6 447.9,255.8 448.2,255.0 448.6,254.7 449.2,254.9 450.2,255.6 450.9,256.4 451.1,257.0 451.0,257.4 449.9,258.2 449.7,258.6 449.8,259.0 450.0,259.2 450.6,259.3 452.3,258.8 453.0,258.4 456.0,255.0 456.4,254.7 456.8,254.6 457.6,254.9 459.0,255.9 461.4,259.4 463.0,261.0 463.2,261.8 463.3,264.0 463.8,265.8 463.7,266.2 463.0,267.2 463.0,268.0 463.2,268.5 464.4,269.4 464.7,270.0 464.9,270.6 464.7,271.8 463.8,273.8 463.2,275.6 462.8,276.2 462.0,277.0 461.9,277.4 462.2,278.6 462.8,279.4 463.8,280.0 464.2,280.1 465.0,280.0 465.1,280.2 464.4,280.7 463.7,282.2 463.6,283.2 464.0,284.6 464.0,285.4 463.2,287.4 463.0,289.4 462.2,290.7 462.0,291.4 462.2,292.6 462.6,293.6 463.5,295.0 463.7,296.0 463.5,296.4 463.2,296.7 461.8,297.1 461.2,297.5 459.6,299.1 458.4,299.5 457.2,299.3 455.9,298.6 453.2,297.4 452.8,297.3 452.4,297.4 451.7,298.0 451.3,298.8 451.2,299.4 451.8,301.0 451.7,301.4 451.4,301.7Z M452.6,295.8 453.0,295.6 453.2,295.3 453.2,295.0 453.0,294.9 452.6,294.9 452.4,295.2 452.3,295.6 452.6,295.8Z M449.2,257.4 448.8,257.4 448.6,257.2 448.5,256.8 448.6,256.1 449.0,255.7 449.7,256.0 450.1,256.6 450.0,257.0 449.2,257.4Z M458.2,299.0 457.4,298.9 456.2,298.3 454.8,297.8 453.8,297.2 453.5,296.8 453.5,296.4 454.1,295.0 453.8,294.4 453.4,294.1 452.6,294.1 451.8,294.7 451.4,295.4 451.1,296.8 450.8,297.2 447.9,297.8 446.6,298.3 446.2,298.0 445.7,297.0 444.4,295.9 442.4,295.5 441.8,295.2 441.1,294.4 440.8,293.6 441.0,293.2 442.2,292.7 443.4,292.4 444.2,292.5 444.5,292.8 445.0,294.8 446.0,295.9 446.2,295.9 446.6,295.5 447.3,294.2 447.2,293.8 447.0,293.4 445.3,292.2 445.1,290.6 444.4,289.5 444.2,289.0 443.9,286.2 443.9,285.2 444.2,284.4 445.1,283.4 445.3,282.8 445.2,282.4 445.0,282.2 444.6,282.1 443.2,282.6 442.8,282.6 442.4,282.3 442.1,281.8 441.9,280.2 441.2,278.6 441.2,278.2 441.6,277.8 442.0,277.9 443.2,278.4 444.4,278.4 445.1,278.2 445.5,277.6 445.5,276.6 445.1,275.0 445.1,274.6 446.0,272.8 446.1,272.2 445.8,271.4 445.0,270.4 444.9,270.0 445.2,269.6 446.4,269.0 446.7,268.6 446.8,268.2 446.6,266.8 446.7,266.2 447.0,265.6 447.9,264.4 448.1,263.8 448.1,263.0 447.7,261.0 447.8,260.0 448.0,259.6 448.4,259.3 448.8,259.4 449.7,260.0 450.2,260.2 450.8,260.1 452.6,259.4 455.4,257.4 456.7,256.0 457.2,255.7 457.8,255.9 458.4,256.3 459.4,257.6 460.6,258.8 461.4,260.2 462.6,261.4 462.8,262.2 462.8,264.4 462.1,265.8 462.2,267.8 461.8,269.4 461.9,269.6 462.2,269.8 463.2,269.6 463.8,269.7 464.3,270.2 464.4,270.8 464.3,271.6 463.0,273.6 462.5,275.2 462.0,275.7 460.7,276.2 460.5,276.4 460.4,276.8 461.2,279.6 461.6,280.0 462.8,280.8 463.1,281.4 462.8,283.2 463.5,284.6 463.5,285.4 462.9,287.2 462.6,289.0 461.8,290.5 461.6,291.4 462.1,294.4 462.8,295.2 462.9,295.8 462.8,296.0 462.4,296.1 461.6,295.9 460.5,297.4 459.6,298.4 459.0,298.8 458.2,299.0Z M447.9,277.2 448.4,276.8 448.4,276.0 448.2,275.6 447.6,275.5 447.2,275.6 446.8,276.0 446.7,276.6 447.0,277.2 447.4,277.3 447.9,277.2Z M461.4,295.6 461.5,295.4 461.4,295.1 461.2,295.2 461.4,295.6Z M458.6,298.0 458.0,298.2 457.6,298.2 455.2,297.6 454.5,297.2 454.2,296.8 454.2,296.5 455.0,295.2 455.0,294.6 454.3,294.0 453.2,293.6 452.4,293.6 451.7,294.0 451.0,294.8 450.2,296.1 449.6,296.6 448.6,296.8 448.2,296.8 447.8,296.6 447.6,296.2 447.6,295.8 448.1,294.2 448.0,293.4 447.6,292.8 446.6,292.3 446.1,291.8 445.9,290.2 444.8,288.8 444.3,286.8 444.3,285.8 444.4,285.2 444.7,284.8 445.5,284.2 445.8,283.8 446.0,282.8 446.0,282.0 445.8,281.6 445.2,281.3 443.4,281.7 443.0,281.5 442.7,281.0 442.4,279.6 442.6,279.2 443.4,278.9 444.4,279.1 446.0,279.7 447.0,279.6 448.1,278.4 449.2,277.6 450.0,276.6 451.0,276.0 451.4,275.6 451.6,275.0 451.4,274.6 451.0,274.3 449.4,273.8 448.6,273.8 447.0,274.6 446.4,274.6 446.1,274.2 446.1,273.8 446.6,272.4 446.0,270.4 446.3,270.0 447.0,269.4 447.3,268.8 447.3,268.2 447.0,266.8 447.1,266.2 447.4,265.7 448.6,264.4 449.2,262.4 449.7,261.8 451.4,260.6 453.0,259.9 454.4,258.9 456.0,258.2 457.0,257.5 457.4,257.3 458.0,257.6 458.8,258.5 459.8,258.8 460.2,259.0 460.6,259.8 461.0,261.4 461.2,261.6 461.8,261.7 462.1,262.0 462.1,262.8 461.0,265.4 461.0,265.8 461.6,267.0 461.6,267.8 461.4,268.4 460.8,269.4 460.7,269.8 461.2,270.4 461.8,270.8 462.4,270.9 463.4,270.7 463.6,271.0 463.4,271.6 463.0,272.3 462.0,273.2 461.2,274.2 459.7,273.6 459.0,273.5 458.4,273.6 458.1,274.0 458.2,275.2 459.1,277.4 459.3,278.8 460.0,280.4 460.7,281.6 460.6,282.4 460.6,283.0 461.0,283.4 462.6,284.5 462.9,285.0 463.0,285.4 462.4,287.0 462.2,288.8 461.3,290.6 461.1,293.0 460.8,293.5 459.6,294.2 459.4,294.6 459.3,295.0 459.7,296.0 459.8,296.6 459.4,297.4 458.6,298.0Z M461.1,263.2 461.2,262.8 461.0,262.2 460.8,262.0 460.6,262.1 460.2,262.4 460.1,263.0 460.6,263.3 461.1,263.2Z M459.8,266.0 460.2,265.6 460.2,265.2 459.8,264.6 459.6,264.4 459.2,264.4 458.8,264.7 458.6,265.0 458.7,265.6 459.2,266.1 459.8,266.0Z M443.4,295.0 442.6,295.0 441.9,294.6 441.6,294.0 441.7,293.4 442.2,293.1 443.0,292.9 443.4,292.9 443.8,293.1 444.0,293.8 444.0,294.4 443.9,294.8 443.4,295.0Z M457.4,297.2 455.4,297.3 455.0,297.2 454.6,296.8 454.8,296.2 455.6,295.4 456.2,294.3 456.7,293.8 456.7,293.4 456.4,293.2 456.2,293.3 455.8,293.8 455.4,293.9 454.8,293.8 453.2,293.3 452.2,293.4 451.1,294.2 449.6,296.0 448.8,296.4 448.3,296.2 448.1,295.6 448.5,294.2 448.4,293.4 448.0,292.8 446.6,291.8 446.5,291.4 446.5,290.2 446.3,289.8 445.4,289.0 445.0,288.5 444.7,287.4 444.6,286.2 444.6,285.6 444.8,285.2 445.8,284.6 446.1,284.2 446.6,282.0 446.5,281.0 446.8,280.9 447.8,281.0 448.3,280.8 448.5,280.4 448.4,279.4 448.7,278.8 450.4,277.3 451.6,276.6 452.0,276.1 452.2,275.4 452.2,274.6 451.8,274.1 450.4,273.6 449.2,273.1 448.4,273.2 447.0,274.0 446.7,273.8 446.9,272.4 446.6,270.6 447.3,269.4 447.5,268.8 447.5,268.2 447.2,267.0 447.3,266.2 447.8,265.6 448.8,264.6 449.8,262.6 451.0,261.4 451.8,260.8 453.0,260.5 454.0,259.5 454.6,259.1 457.0,258.6 457.2,258.6 458.0,259.3 459.8,259.2 460.2,259.5 460.4,260.0 460.4,260.6 460.3,261.2 459.5,262.4 459.0,263.6 458.4,264.4 458.2,265.2 458.5,266.0 459.0,266.5 459.4,266.6 460.6,266.4 461.2,267.0 461.3,267.4 461.3,268.0 461.0,268.5 460.2,269.4 460.1,269.8 461.7,271.4 462.0,272.0 461.5,272.8 461.0,273.3 460.6,273.3 459.2,273.1 458.2,273.0 457.6,273.2 457.4,273.6 457.9,275.8 458.4,277.4 458.6,278.8 459.2,280.0 459.7,281.6 460.0,283.0 460.6,283.8 462.2,284.8 462.6,285.4 462.5,285.8 462.1,287.0 461.9,288.8 461.1,290.4 460.9,292.6 460.4,293.2 458.7,294.4 458.5,294.8 458.7,295.8 458.6,296.1 457.4,297.2Z M444.4,281.0 443.6,281.1 443.2,280.9 442.9,280.0 442.9,279.6 443.1,279.4 443.6,279.2 444.4,279.4 445.1,279.8 445.6,280.4 445.7,280.6 445.6,280.7 444.4,281.0Z M443.4,294.6 442.8,294.7 442.2,294.5 441.9,294.0 442.0,293.6 442.6,293.2 443.0,293.1 443.4,293.2 443.7,293.6 443.7,294.0 443.6,294.4 443.4,294.6Z M449.2,295.6 448.8,295.7 448.7,295.4 448.9,294.2 448.5,293.0 448.2,292.6 447.0,291.6 446.9,291.2 447.1,290.0 446.7,289.6 445.6,288.8 445.2,288.2 444.9,287.2 445.0,285.8 445.2,285.4 446.2,285.1 446.5,284.8 446.8,283.2 447.2,282.5 448.8,281.6 449.5,281.0 449.7,280.4 449.7,279.2 450.3,278.4 450.8,278.1 451.8,278.6 452.6,278.7 453.1,278.6 453.4,278.4 453.8,277.4 454.6,276.3 455.0,274.4 454.6,274.3 453.4,274.5 452.7,273.8 452.0,273.5 450.6,273.3 449.2,272.6 448.8,272.5 447.8,272.8 447.4,272.6 447.0,271.6 446.9,270.8 447.7,268.8 447.4,267.0 447.5,266.4 447.9,265.8 449.2,264.6 450.0,263.0 450.6,262.2 451.8,261.3 453.4,260.9 453.9,260.0 454.6,259.4 455.2,259.2 456.0,259.2 458.2,259.9 459.6,259.7 460.0,260.0 460.1,260.4 460.0,261.0 458.9,262.6 458.0,264.3 457.9,265.0 458.2,265.9 458.8,266.8 459.4,267.0 460.4,266.9 460.9,267.2 461.0,267.6 460.8,268.1 459.8,269.1 459.6,269.6 459.8,270.1 461.1,271.2 461.4,271.8 461.3,272.2 461.0,272.8 460.6,272.9 457.8,272.7 456.9,273.0 456.5,273.4 457.3,274.8 457.9,277.4 458.1,278.6 458.8,280.2 459.6,283.3 460.8,284.8 461.6,285.2 461.9,285.6 461.6,286.6 461.7,288.4 461.0,290.2 460.8,292.0 460.5,292.6 460.1,293.0 459.0,293.7 458.0,294.1 457.6,294.0 457.0,293.0 456.4,292.6 456.0,292.6 455.4,293.2 455.0,293.4 453.0,293.0 452.2,293.1 451.2,293.7 449.2,295.6Z M444.4,280.6 444.0,280.7 443.6,280.6 443.3,280.2 443.4,279.7 444.0,279.6 444.5,279.8 444.8,280.2 444.7,280.4 444.4,280.6Z M443.2,294.2 442.6,294.3 442.4,294.2 442.3,293.8 442.6,293.5 443.0,293.5 443.3,293.8 443.2,294.2Z M457.2,296.0 456.6,296.1 456.4,295.8 456.8,295.0 457.4,294.8 457.6,294.9 457.7,295.4 457.5,295.8 457.2,296.0Z M454.6,273.6 454.2,273.6 453.2,273.2 450.6,272.8 449.4,272.0 448.0,272.2 447.6,272.0 447.3,271.4 447.3,270.8 447.9,268.8 447.7,267.0 447.7,266.4 448.0,266.0 449.5,264.8 450.4,262.9 451.3,262.0 452.2,261.6 454.2,261.6 454.3,261.4 454.2,260.4 454.6,259.8 455.4,259.6 457.8,260.2 459.4,260.2 459.7,260.4 459.7,261.0 458.5,262.4 457.9,263.4 457.6,264.2 457.6,264.8 458.0,266.0 458.6,267.0 459.2,267.5 460.0,267.7 460.2,267.8 459.2,269.2 459.1,269.8 459.4,270.2 460.7,271.2 460.9,271.8 460.9,272.2 460.6,272.5 460.2,272.6 458.0,272.4 457.4,272.4 455.2,273.5 454.6,273.6Z M450.2,294.0 449.8,294.2 449.4,294.0 448.6,292.6 447.5,291.6 447.3,291.2 447.7,290.2 447.6,289.8 447.2,289.4 446.0,288.7 445.5,288.2 445.3,287.4 445.4,286.3 445.6,285.9 446.6,285.6 447.0,285.2 447.5,283.4 449.9,281.4 450.8,279.3 451.2,279.1 451.6,279.1 453.6,279.4 454.2,279.2 454.6,278.4 455.5,275.0 456.0,274.4 456.4,274.4 456.8,274.7 457.0,275.2 457.6,278.2 458.5,280.2 459.1,283.4 459.8,284.6 460.1,286.0 461.0,287.2 461.3,288.0 461.3,288.8 460.7,290.0 460.6,291.8 460.3,292.4 459.8,292.9 459.0,293.4 458.4,293.6 457.8,293.5 456.8,292.4 456.0,292.1 455.6,292.3 454.8,293.0 454.4,293.0 452.8,292.7 452.0,292.8 450.2,294.0Z M455.4,273.0 454.6,273.2 453.4,272.7 452.2,272.5 451.7,272.2 450.9,271.4 450.4,271.1 449.8,271.2 448.6,271.6 448.0,271.6 447.7,271.2 447.6,270.8 448.1,268.8 447.9,267.2 448.0,266.6 448.3,266.2 449.7,265.0 450.1,264.4 450.7,263.0 451.6,262.2 452.2,261.9 452.8,261.9 453.8,262.1 455.2,262.6 455.6,262.5 455.8,262.2 455.7,261.8 454.9,260.6 455.0,260.3 455.4,260.2 459.0,260.7 459.2,260.8 459.1,261.2 457.1,263.4 457.0,263.8 457.0,264.2 457.9,266.4 458.9,268.2 458.9,268.6 458.6,269.6 458.7,270.0 459.0,270.4 460.2,271.2 460.5,271.6 460.5,272.0 460.2,272.3 459.8,272.3 458.0,272.1 457.4,272.1 455.4,273.0Z M450.0,293.4 449.6,293.3 447.9,291.6 447.8,291.2 448.1,290.2 448.0,289.6 447.6,289.2 446.1,288.4 445.7,287.8 445.7,287.2 446.1,286.6 447.3,285.6 447.8,284.2 448.2,283.6 449.1,282.6 450.4,281.5 451.2,279.8 451.6,279.6 452.2,279.5 452.8,279.7 453.6,280.1 454.0,280.0 455.9,278.2 456.0,277.8 455.7,277.0 455.7,276.0 456.0,275.3 456.4,275.2 456.6,275.5 456.7,276.0 456.6,277.8 458.0,279.8 458.3,280.4 458.6,282.4 458.6,283.8 459.2,284.8 459.8,286.8 460.8,288.2 460.7,288.8 460.3,289.6 460.4,291.0 460.4,291.6 460.0,292.2 459.4,292.8 458.8,293.2 458.4,293.3 457.8,293.1 456.6,292.0 455.8,291.8 455.4,291.9 454.8,292.5 454.4,292.6 452.8,292.2 452.0,292.3 451.4,292.5 450.4,293.3 450.0,293.4Z M458.9,289.8 459.1,289.6 458.8,289.6 458.8,289.8 458.9,289.8Z M457.0,262.4 456.6,262.3 456.4,262.0 456.3,261.4 456.4,261.1 457.0,260.9 458.1,261.0 458.3,261.2 458.1,261.6 457.4,262.2 457.0,262.4Z M455.2,272.8 454.6,272.8 453.6,272.3 452.4,272.0 451.4,271.0 450.6,270.6 450.0,270.6 448.6,271.2 448.2,271.1 448.0,270.8 448.0,270.2 448.4,268.8 448.2,267.4 448.4,266.8 449.4,265.8 450.4,264.6 451.2,263.0 452.0,262.4 452.8,262.3 453.8,262.5 455.6,263.4 456.0,263.8 457.2,265.5 458.1,267.8 458.1,268.4 457.6,269.8 457.7,270.4 459.3,271.0 459.8,271.4 459.9,271.6 459.8,271.9 459.4,272.0 457.8,271.6 457.4,271.6 456.0,272.5 455.2,272.8Z M458.4,293.0 458.0,292.9 456.6,291.6 455.8,291.3 455.2,291.4 454.2,291.8 452.8,291.3 450.8,291.7 450.0,292.4 449.6,292.4 448.8,292.0 448.3,291.4 448.2,291.0 448.5,290.0 448.4,289.4 447.9,289.0 446.6,288.4 446.2,288.0 446.1,287.6 446.3,287.2 447.5,286.0 448.2,284.6 449.5,282.8 450.7,281.6 451.4,280.4 451.8,280.0 452.2,279.9 452.6,280.0 453.4,280.6 453.8,280.7 454.2,280.5 455.4,279.2 456.0,278.9 456.4,278.8 457.0,279.1 457.8,280.0 458.0,280.6 458.1,282.2 458.0,283.0 457.8,283.3 457.4,283.6 456.2,283.8 455.7,284.4 455.5,285.0 455.6,285.2 456.0,285.4 457.4,285.1 458.2,285.1 458.6,285.3 459.0,285.8 459.6,287.6 459.7,288.0 459.6,288.4 458.4,289.0 457.8,289.8 457.8,290.2 458.0,290.5 458.6,290.6 459.6,290.5 459.9,290.6 460.1,291.0 460.0,291.6 459.4,292.4 459.0,292.8 458.4,293.0Z M455.6,272.4 455.0,272.5 454.6,272.4 453.6,271.8 452.8,271.5 451.6,270.6 450.8,270.2 450.0,270.2 448.8,270.7 448.5,270.6 448.4,270.4 448.6,268.8 448.6,267.6 448.7,267.2 451.0,264.6 451.7,263.2 452.4,262.8 453.0,262.7 453.6,262.9 455.4,264.0 456.6,265.3 457.0,266.0 457.1,266.6 457.0,267.4 457.1,268.6 457.0,269.2 456.5,270.2 456.6,271.4 456.2,272.0 455.6,272.4Z M458.6,292.5 458.4,292.6 458.0,292.4 457.0,291.4 456.4,291.0 455.6,290.8 454.2,290.7 453.8,290.5 453.4,290.0 453.2,288.8 453.0,288.5 452.6,288.3 452.4,288.5 452.4,290.0 452.1,290.6 451.6,290.9 450.4,291.1 449.6,291.5 449.0,291.5 448.8,291.3 448.7,291.0 449.0,290.0 448.9,289.4 448.4,288.9 447.2,288.3 446.8,288.0 446.7,287.8 446.7,287.4 447.8,286.4 448.6,284.9 449.0,284.6 449.8,284.4 449.7,283.6 449.8,283.0 451.2,281.6 452.0,280.5 452.4,280.5 453.1,281.2 453.6,281.4 454.2,281.1 455.2,279.8 455.8,279.4 456.6,279.3 457.0,279.6 457.4,280.0 457.5,280.6 457.5,282.2 457.4,282.6 457.0,282.8 456.4,282.8 456.0,282.9 454.8,284.4 454.6,285.0 454.8,285.4 455.4,285.9 456.2,286.0 458.0,285.9 458.4,286.1 458.6,286.4 459.0,287.4 459.0,288.0 457.7,289.2 457.3,289.8 457.1,290.4 457.3,290.8 457.6,291.1 458.9,291.6 459.0,292.0 458.6,292.5Z" fill="none" stroke="#1a1a1a" stroke-width="0.55" stroke-linejoin="round"/><path d="M456.0,297.0 455.2,297.0 454.9,296.8 454.9,296.6 455.0,296.4 455.8,295.7 456.4,294.8 457.2,294.0 457.0,293.3 456.4,292.8 456.0,292.9 455.4,293.5 455.0,293.6 453.2,293.2 452.2,293.2 451.1,294.0 449.4,295.9 449.0,296.1 448.5,296.0 448.4,295.6 448.7,294.2 448.6,293.4 448.0,292.6 447.1,292.0 446.7,291.6 446.7,290.0 445.4,288.8 445.1,288.4 444.8,287.4 444.7,286.4 444.8,285.6 445.0,285.3 446.0,284.8 446.4,284.4 446.6,283.0 447.0,282.0 447.4,281.7 448.5,281.4 449.0,280.9 449.2,280.4 449.1,279.2 449.3,278.8 450.4,277.8 450.8,277.5 451.2,277.6 451.8,278.1 452.2,278.3 452.6,278.2 452.8,277.8 452.5,276.8 452.6,274.6 452.3,274.0 451.8,273.7 450.4,273.4 449.0,272.8 448.4,272.9 447.4,273.3 447.2,273.2 446.7,270.8 447.6,268.8 447.3,267.0 447.4,266.3 447.8,265.7 449.0,264.6 449.9,262.8 451.0,261.6 451.8,261.1 453.2,260.7 454.0,259.7 454.6,259.3 455.2,259.1 456.0,259.0 456.8,259.1 458.0,259.6 459.6,259.4 460.0,259.6 460.2,260.0 460.3,260.6 460.1,261.2 459.2,262.4 458.8,263.4 458.2,264.3 458.1,265.2 458.4,266.1 459.0,266.7 459.4,266.8 460.4,266.6 460.8,266.8 461.0,267.0 461.2,267.4 461.1,268.0 460.8,268.5 460.0,269.2 459.8,269.6 460.0,270.0 461.4,271.4 461.6,271.8 461.6,272.2 461.3,272.8 460.8,273.1 458.0,272.8 457.2,273.1 457.0,273.6 458.1,277.2 458.4,278.8 459.0,280.2 459.8,283.2 460.6,284.1 462.1,285.0 462.3,285.6 461.9,286.8 461.8,288.6 461.1,290.2 460.9,292.0 460.7,292.6 460.2,293.1 458.3,294.4 458.1,294.8 458.1,295.8 457.8,296.2 457.2,296.6 456.0,297.0Z M454.2,276.0 454.2,275.5 453.9,276.0 454.0,276.1 454.2,276.0Z M444.4,280.8 443.8,280.9 443.4,280.8 443.1,280.2 443.1,279.8 443.2,279.6 443.6,279.4 444.0,279.4 444.5,279.6 445.0,280.0 445.1,280.4 445.0,280.6 444.4,280.8Z M443.2,294.5 442.8,294.6 442.4,294.4 442.1,294.0 442.2,293.6 442.8,293.3 443.3,293.4 443.6,294.0 443.4,294.4 443.2,294.5Z M455.0,273.5 454.4,273.5 453.2,273.1 450.8,272.7 449.6,271.9 448.0,272.1 447.6,271.8 447.4,271.4 447.3,270.8 448.0,268.8 447.7,267.0 447.8,266.4 448.1,266.0 449.5,264.8 450.6,262.8 451.4,262.0 452.4,261.6 454.2,261.8 454.6,261.7 454.7,261.6 454.3,260.8 454.3,260.4 454.5,260.0 454.8,259.8 455.4,259.7 457.8,260.2 459.4,260.3 459.6,260.6 459.6,261.0 458.4,262.4 457.9,263.2 457.5,264.0 457.5,264.6 457.8,265.6 458.4,266.9 459.0,267.5 459.7,268.0 459.1,269.2 459.0,269.8 459.4,270.3 460.6,271.2 460.9,271.8 460.8,272.2 460.6,272.4 460.2,272.6 458.0,272.3 457.4,272.3 455.0,273.5Z M449.8,294.0 449.4,293.8 448.6,292.6 447.6,291.6 447.4,291.2 447.8,290.0 447.6,289.6 446.2,288.8 445.6,288.2 445.3,287.4 445.5,286.4 445.8,286.0 446.6,285.7 447.0,285.4 447.2,285.0 447.6,283.5 450.0,281.4 450.8,279.6 451.0,279.3 451.4,279.2 452.2,279.2 453.6,279.6 454.2,279.4 454.9,278.2 455.5,275.2 456.0,274.6 456.4,274.5 456.8,274.8 457.0,275.3 457.5,278.2 458.4,280.2 459.0,283.4 459.7,284.6 460.0,286.0 461.0,287.4 461.2,288.0 461.2,288.8 460.6,290.0 460.5,291.8 459.8,292.8 459.0,293.3 458.4,293.6 457.8,293.4 456.6,292.2 456.0,292.0 455.6,292.2 455.0,292.8 454.6,293.0 452.8,292.6 452.0,292.7 450.4,293.8 449.8,294.0Z M457.0,262.4 456.6,262.3 456.4,262.0 456.3,261.4 456.4,261.1 457.0,260.9 458.1,261.0 458.3,261.2 458.1,261.6 457.4,262.2 457.0,262.4Z M455.2,272.8 454.6,272.8 453.6,272.3 452.4,272.0 451.4,271.0 450.6,270.6 450.0,270.6 448.6,271.2 448.2,271.1 448.0,270.8 448.0,270.2 448.4,268.8 448.2,267.4 448.4,266.8 449.4,265.8 450.4,264.6 451.2,263.0 452.0,262.4 452.8,262.3 453.8,262.5 455.6,263.4 456.0,263.8 457.2,265.5 458.1,267.8 458.1,268.4 457.6,269.8 457.7,270.4 459.3,271.0 459.8,271.4 459.9,271.6 459.8,271.9 459.4,272.0 457.8,271.6 457.4,271.6 456.0,272.5 455.2,272.8Z M458.4,293.0 458.0,292.9 456.6,291.6 455.8,291.3 455.2,291.4 454.2,291.8 452.8,291.3 450.8,291.7 450.0,292.4 449.6,292.4 448.8,292.0 448.3,291.4 448.2,291.0 448.5,290.0 448.4,289.4 447.9,289.0 446.6,288.4 446.2,288.0 446.1,287.6 446.3,287.2 447.5,286.0 448.2,284.6 449.5,282.8 450.7,281.6 451.4,280.4 451.8,280.0 452.2,279.9 452.6,280.0 453.4,280.6 453.8,280.7 454.2,280.5 455.4,279.2 456.0,278.9 456.4,278.8 457.0,279.1 457.8,280.0 458.0,280.6 458.1,282.2 458.0,283.0 457.8,283.3 457.4,283.6 456.2,283.8 455.7,284.4 455.5,285.0 455.6,285.2 456.0,285.4 457.4,285.1 458.2,285.1 458.6,285.3 459.0,285.8 459.6,287.6 459.7,288.0 459.6,288.4 458.4,289.0 457.8,289.8 457.8,290.2 458.0,290.5 458.6,290.6 459.6,290.5 459.9,290.6 460.1,291.0 460.0,291.6 459.4,292.4 459.0,292.8 458.4,293.0Z" fill="none" stroke="#fff" stroke-width="0.4" stroke-opacity="0.7"/><circle cx="443" cy="306.6" r="0.8" fill="none" stroke="#222" stroke-width="0.5"/><circle cx="447.7" cy="306.6" r="0.8" fill="none" stroke="#222" stroke-width="0.5"/><circle cx="452.5" cy="306.6" r="0.8" fill="none" stroke="#222" stroke-width="0.5"/><circle cx="457.8" cy="306.6" r="0.8" fill="none" stroke="#222" stroke-width="0.5"/><circle cx="461" cy="306.6" r="0.8" fill="none" stroke="#222" stroke-width="0.5"/>
</svg>
</body></html>
